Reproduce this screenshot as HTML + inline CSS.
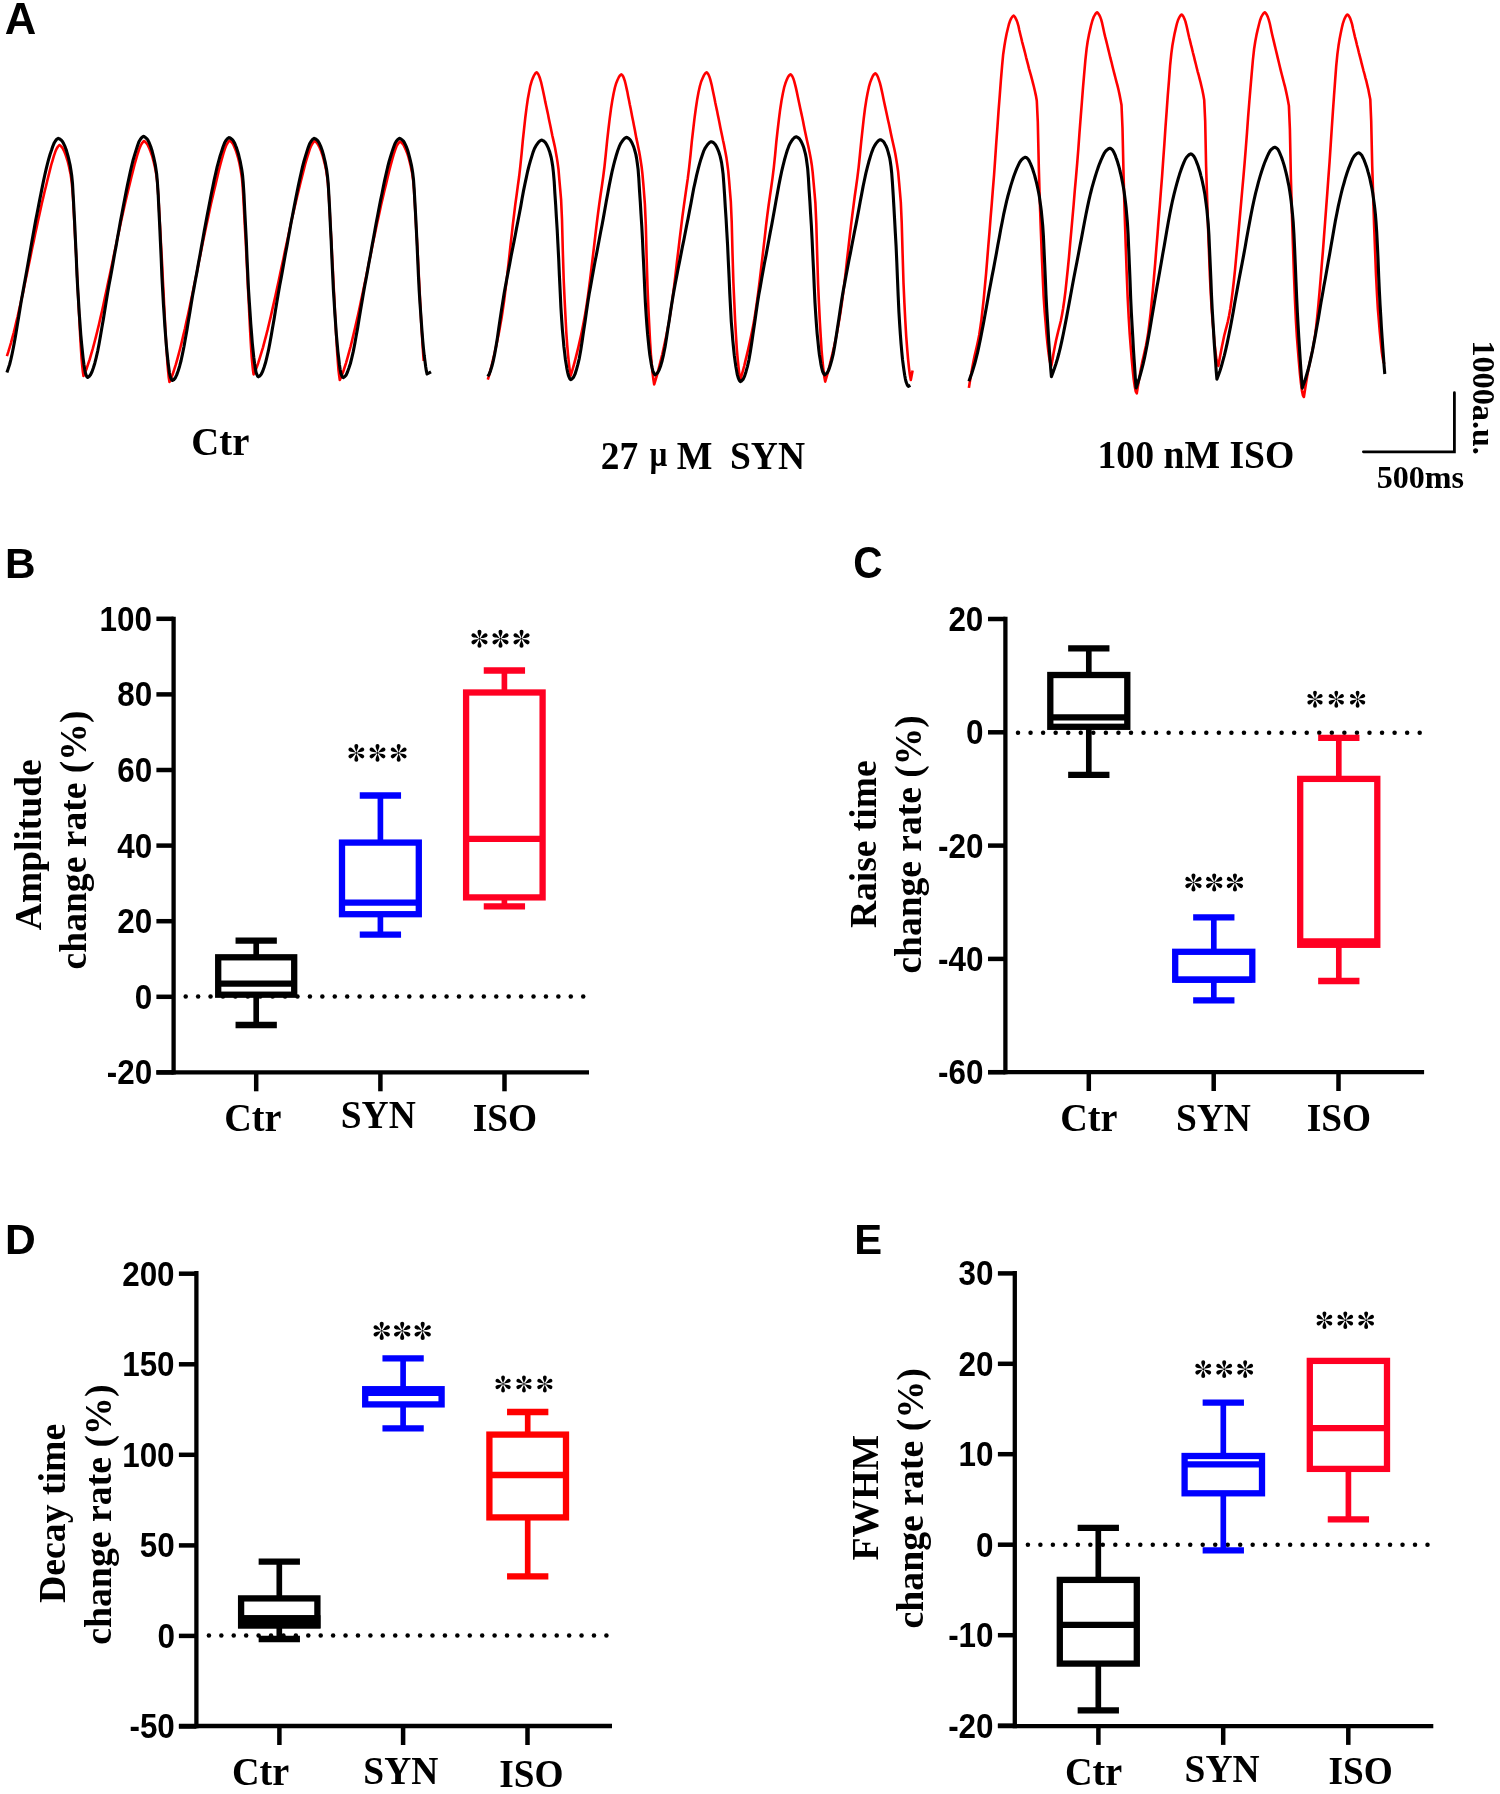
<!DOCTYPE html>
<html><head><meta charset="utf-8"><title>Figure</title>
<style>html,body{margin:0;padding:0;background:#fff;}svg{display:block;} svg{will-change:transform;}</style></head>
<body><svg width="1500" height="1794" viewBox="0 0 1500 1794" font-family="Liberation Serif, serif">
<rect width="1500" height="1794" fill="#fff"/>
<path d="M6.9 356.1L8.3 351.9L9.6 347.5L11.0 342.8L12.3 337.9L13.7 332.8L15.0 327.5L16.3 321.9L17.7 316.3L19.0 310.4L20.4 304.4L21.7 298.3L23.1 292.1L24.4 285.8L25.7 279.5L27.1 273.0L28.4 266.6L29.8 260.1L31.1 253.6L32.4 247.1L33.8 240.7L35.1 234.3L36.5 227.9L37.8 221.7L39.2 215.5L40.5 209.4L41.8 203.5L43.2 197.7L44.5 192.0L45.9 186.5L47.2 181.0L48.6 175.4L49.9 170.1L51.2 165.0L52.6 160.3L53.9 155.9L55.3 151.8L56.6 148.7L58.0 146.5L59.3 145.0L59.9 145.3L60.5 145.8L61.2 146.4L61.8 147.1L62.4 147.9L63.0 148.9L63.6 150.2L64.3 151.5L64.9 153.0L65.5 154.6L66.1 156.3L66.7 158.2L67.4 160.2L68.0 162.5L68.6 164.9L69.2 167.5L69.8 170.4L70.5 173.6L71.1 177.5L71.7 182.1L72.3 188.3L73.0 197.3L73.6 208.0L74.2 219.6L74.8 231.1L75.4 242.3L76.1 254.2L76.7 266.6L77.3 279.0L77.9 291.3L78.5 303.6L79.2 316.3L79.8 328.5L80.4 339.7L81.0 349.7L81.6 359.0L82.3 366.5L82.9 372.0L83.5 376.0L85.0 372.6L86.6 368.7L88.1 364.2L89.7 359.4L91.2 354.2L92.8 348.7L94.3 343.0L95.9 336.9L97.4 330.7L99.0 324.2L100.5 317.6L102.1 310.7L103.6 303.8L105.1 296.6L106.7 289.4L108.2 282.1L109.8 274.8L111.3 267.4L112.9 260.0L114.4 252.6L116.0 245.2L117.5 237.8L119.1 230.6L120.6 223.4L122.2 216.3L123.7 209.4L125.2 202.6L126.8 196.0L128.3 189.6L129.9 183.3L131.4 176.9L133.0 170.6L134.5 164.7L136.1 159.1L137.6 154.0L139.2 149.1L140.7 145.4L142.3 142.8L143.8 141.0L144.5 141.3L145.1 141.8L145.8 142.5L146.4 143.2L147.1 144.0L147.8 145.1L148.4 146.4L149.1 147.8L149.7 149.4L150.4 151.0L151.0 152.8L151.7 154.7L152.4 156.9L153.0 159.2L153.7 161.8L154.3 164.5L155.0 167.5L155.7 170.9L156.3 174.9L157.0 179.7L157.6 186.2L158.3 195.6L159.0 206.8L159.6 218.8L160.3 230.8L160.9 242.5L161.6 255.0L162.3 267.8L162.9 280.8L163.6 293.6L164.2 306.5L164.9 319.7L165.5 332.5L166.2 344.1L166.9 354.6L167.5 364.3L168.2 372.0L168.8 377.8L169.5 382.0L171.0 378.5L172.6 374.5L174.1 369.9L175.7 364.9L177.2 359.6L178.7 354.0L180.3 348.0L181.8 341.9L183.3 335.4L184.9 328.8L186.4 321.9L188.0 314.9L189.5 307.8L191.0 300.5L192.6 293.0L194.1 285.5L195.7 278.0L197.2 270.4L198.7 262.8L200.3 255.1L201.8 247.6L203.3 240.0L204.9 232.5L206.4 225.2L208.0 217.9L209.5 210.8L211.0 203.8L212.6 197.0L214.1 190.4L215.7 183.9L217.2 177.4L218.7 171.0L220.3 164.8L221.8 159.1L223.3 153.8L224.9 148.9L226.4 145.0L228.0 142.3L229.5 140.5L230.1 140.8L230.7 141.3L231.4 141.9L232.0 142.6L232.6 143.4L233.2 144.5L233.8 145.7L234.4 147.1L235.1 148.6L235.7 150.2L236.3 151.9L236.9 153.8L237.5 155.9L238.2 158.2L238.8 160.7L239.4 163.3L240.0 166.2L240.6 169.5L241.2 173.4L241.9 178.0L242.5 184.4L243.1 193.5L243.7 204.3L244.3 216.0L244.9 227.7L245.6 239.0L246.2 251.1L246.8 263.6L247.4 276.2L248.0 288.6L248.7 301.1L249.3 313.9L249.9 326.3L250.5 337.6L251.1 347.8L251.7 357.2L252.4 364.7L253.0 370.3L253.6 374.4L255.2 371.0L256.7 367.2L258.3 362.7L259.8 357.9L261.4 352.7L263.0 347.3L264.5 341.6L266.1 335.6L267.7 329.4L269.2 323.0L270.8 316.4L272.3 309.6L273.9 302.6L275.5 295.6L277.0 288.4L278.6 281.2L280.1 273.9L281.7 266.5L283.3 259.2L284.8 251.8L286.4 244.5L288.0 237.2L289.5 229.9L291.1 222.8L292.6 215.8L294.2 208.9L295.8 202.2L297.3 195.6L298.9 189.2L300.4 183.0L302.0 176.7L303.6 170.4L305.1 164.5L306.7 159.0L308.3 153.9L309.8 149.1L311.4 145.3L312.9 142.8L314.5 141.0L315.1 141.3L315.8 141.8L316.4 142.4L317.1 143.2L317.7 144.0L318.4 145.1L319.0 146.3L319.7 147.8L320.3 149.3L321.0 150.9L321.6 152.7L322.3 154.6L322.9 156.7L323.6 159.1L324.2 161.6L324.9 164.3L325.5 167.3L326.2 170.6L326.8 174.6L327.5 179.3L328.1 185.8L328.8 195.1L329.4 206.2L330.1 218.2L330.7 230.1L331.4 241.7L332.0 254.0L332.7 266.8L333.3 279.6L334.0 292.4L334.6 305.1L335.3 318.2L335.9 330.9L336.6 342.4L337.2 352.8L337.9 362.4L338.5 370.1L339.2 375.8L339.8 380.0L341.3 376.6L342.9 372.6L344.4 368.0L346.0 363.1L347.5 357.9L349.0 352.3L350.6 346.5L352.1 340.4L353.6 334.0L355.2 327.4L356.7 320.7L358.3 313.8L359.8 306.7L361.3 299.5L362.9 292.1L364.4 284.7L366.0 277.3L367.5 269.8L369.0 262.2L370.6 254.7L372.1 247.2L373.6 239.8L375.2 232.4L376.7 225.1L378.3 217.9L379.8 210.9L381.3 204.0L382.9 197.3L384.4 190.8L386.0 184.4L387.5 177.9L389.0 171.6L390.6 165.5L392.1 159.9L393.6 154.7L395.2 149.8L396.7 145.9L398.3 143.3L399.8 141.5L400.4 141.8L401.0 142.2L401.6 142.8L402.3 143.4L402.9 144.1L403.5 145.0L404.1 146.1L404.7 147.3L405.3 148.7L405.9 150.1L406.5 151.6L407.2 153.2L407.8 155.0L408.4 157.0L409.0 159.1L409.6 161.4L410.2 163.9L410.8 166.5L411.4 169.4L412.1 172.8L412.7 176.8L413.3 181.7L413.9 188.8L414.5 197.9L415.1 208.4L415.7 219.4L416.3 230.1L417.0 240.8L417.6 252.0L418.2 263.6L418.8 275.4L419.4 287.0L420.0 298.6L420.6 310.5L421.2 322.3L421.9 333.4L422.5 343.3L423.1 352.7L423.7 361.0" fill="none" stroke="#ff0000" stroke-width="2.6" stroke-linejoin="round" stroke-linecap="butt"/>
<path d="M6.9 372.4L8.2 368.7L9.6 364.5L10.9 359.4L12.2 353.5L13.5 347.0L14.8 339.9L16.1 332.4L17.4 324.6L18.7 316.7L20.0 308.7L21.3 300.8L22.7 293.1L24.0 285.8L25.3 278.7L26.6 271.5L27.9 264.2L29.2 256.8L30.5 249.5L31.8 242.1L33.1 234.8L34.4 227.6L35.7 220.4L37.1 213.4L38.4 206.6L39.7 199.9L41.0 193.4L42.3 186.9L43.6 180.5L44.9 174.5L46.2 168.8L47.5 163.6L48.8 158.7L50.1 154.3L51.5 150.3L52.8 146.3L54.1 143.1L55.4 141.0L56.7 139.3L58.0 138.4L58.8 138.5L59.5 138.9L60.3 139.4L61.0 140.0L61.8 140.7L62.6 141.7L63.3 143.0L64.1 144.6L64.9 146.3L65.6 148.2L66.4 150.4L67.1 152.9L67.9 155.7L68.7 158.8L69.4 162.1L70.2 165.7L70.9 170.1L71.7 175.5L72.5 183.3L73.2 195.6L74.0 210.5L74.8 225.8L75.5 241.2L76.3 258.3L77.0 275.2L77.8 289.9L78.6 302.3L79.3 314.0L80.1 324.8L80.8 334.8L81.6 343.7L82.4 351.5L83.1 358.1L83.9 364.3L84.7 369.5L85.4 373.2L86.2 375.2L86.9 376.8L87.7 377.4L89.1 376.5L90.5 374.8L92.0 371.8L93.4 367.8L94.8 363.2L96.2 357.6L97.7 351.0L99.1 343.7L100.5 335.8L101.9 327.5L103.4 318.9L104.8 310.2L106.2 301.5L107.6 293.1L109.0 285.0L110.5 277.3L111.9 269.4L113.3 261.4L114.7 253.4L116.2 245.4L117.6 237.3L119.0 229.4L120.4 221.6L121.9 213.9L123.3 206.3L124.7 199.0L126.1 191.9L127.5 184.8L129.0 177.9L130.4 171.3L131.8 165.3L133.2 159.7L134.7 154.6L136.1 150.1L137.5 145.7L138.9 141.8L140.4 139.3L141.8 137.5L143.2 136.4L143.9 136.5L144.7 136.9L145.4 137.4L146.2 138.1L146.9 138.8L147.7 139.7L148.4 141.1L149.2 142.7L149.9 144.5L150.7 146.5L151.4 148.7L152.2 151.3L152.9 154.1L153.7 157.3L154.4 160.6L155.2 164.3L155.9 168.7L156.7 174.3L157.4 182.3L158.2 194.8L158.9 210.0L159.7 225.7L160.4 241.4L161.2 258.8L161.9 276.1L162.7 291.2L163.4 303.8L164.2 315.7L164.9 326.8L165.7 337.0L166.4 346.1L167.2 354.0L167.9 360.8L168.7 367.1L169.4 372.5L170.2 376.2L170.9 378.3L171.7 379.9L172.4 380.5L173.8 379.6L175.3 377.9L176.7 374.9L178.2 370.8L179.6 366.2L181.1 360.5L182.5 353.9L184.0 346.5L185.4 338.6L186.9 330.2L188.3 321.5L189.8 312.8L191.2 304.1L192.6 295.5L194.1 287.4L195.5 279.6L197.0 271.6L198.4 263.6L199.9 255.5L201.3 247.4L202.8 239.3L204.2 231.3L205.7 223.4L207.1 215.7L208.6 208.1L210.0 200.7L211.4 193.5L212.9 186.4L214.3 179.4L215.8 172.8L217.2 166.7L218.7 161.1L220.1 156.0L221.6 151.4L223.0 147.0L224.5 143.1L225.9 140.5L227.4 138.7L228.8 137.6L229.6 137.7L230.3 138.1L231.1 138.6L231.8 139.2L232.6 139.9L233.4 140.9L234.1 142.2L234.9 143.8L235.6 145.6L236.4 147.5L237.1 149.7L237.9 152.2L238.7 155.0L239.4 158.0L240.2 161.3L240.9 165.0L241.7 169.3L242.5 174.7L243.2 182.5L244.0 194.8L244.7 209.7L245.5 225.1L246.3 240.5L247.0 257.6L247.8 274.5L248.5 289.3L249.3 301.6L250.1 313.3L250.8 324.2L251.6 334.2L252.3 343.1L253.1 350.8L253.8 357.5L254.6 363.7L255.4 368.9L256.1 372.6L256.9 374.6L257.6 376.2L258.4 376.8L259.8 375.9L261.2 374.3L262.7 371.3L264.1 367.3L265.5 362.8L266.9 357.2L268.4 350.7L269.8 343.5L271.2 335.7L272.6 327.4L274.1 318.9L275.5 310.3L276.9 301.8L278.3 293.4L279.7 285.4L281.2 277.8L282.6 270.0L284.0 262.1L285.4 254.1L286.9 246.2L288.3 238.3L289.7 230.4L291.1 222.6L292.6 215.0L294.0 207.6L295.4 200.4L296.8 193.3L298.2 186.3L299.7 179.4L301.1 173.0L302.5 166.9L303.9 161.5L305.4 156.4L306.8 151.9L308.2 147.6L309.6 143.8L311.1 141.3L312.5 139.4L313.9 138.4L314.7 138.5L315.4 138.9L316.2 139.4L316.9 140.0L317.7 140.7L318.4 141.7L319.2 143.0L319.9 144.6L320.7 146.4L321.4 148.3L322.2 150.5L322.9 153.0L323.7 155.8L324.4 158.8L325.2 162.1L325.9 165.8L326.7 170.1L327.4 175.5L328.2 183.3L328.9 195.6L329.7 210.5L330.4 225.9L331.2 241.3L331.9 258.4L332.7 275.3L333.4 290.1L334.2 302.4L334.9 314.1L335.7 325.0L336.4 335.0L337.2 343.9L337.9 351.6L338.7 358.3L339.4 364.5L340.2 369.7L340.9 373.4L341.7 375.4L342.4 377.0L343.2 377.6L344.6 376.7L346.1 375.1L347.5 372.0L348.9 368.1L350.4 363.5L351.8 357.9L353.3 351.4L354.7 344.2L356.1 336.3L357.6 328.1L359.0 319.5L360.4 310.9L361.9 302.3L363.3 293.9L364.7 285.9L366.2 278.2L367.6 270.4L369.0 262.5L370.5 254.5L371.9 246.5L373.4 238.6L374.8 230.7L376.2 222.9L377.7 215.3L379.1 207.8L380.5 200.6L382.0 193.5L383.4 186.4L384.8 179.6L386.3 173.1L387.7 167.0L389.1 161.5L390.6 156.5L392.0 152.0L393.5 147.6L394.9 143.8L396.3 141.3L397.8 139.4L399.2 138.4L399.9 138.5L400.6 138.8L401.3 139.3L402.1 139.8L402.8 140.5L403.5 141.2L404.2 142.3L404.9 143.7L405.6 145.2L406.4 146.9L407.1 148.7L407.8 150.8L408.5 153.2L409.2 155.8L409.9 158.7L410.6 161.7L411.4 165.0L412.1 168.9L412.8 173.6L413.5 179.6L414.2 189.4L414.9 202.3L415.7 216.6L416.4 230.6L417.1 245.5L417.8 261.5L418.5 277.0L419.2 290.6L419.9 302.1L420.7 313.0L421.4 323.2L422.1 332.7L422.8 341.3L423.5 348.8L424.2 355.3L425.0 361.4L425.7 366.8L426.4 371.2L427.1 374.0L431.0 371.8" fill="none" stroke="#000" stroke-width="3.1" stroke-linejoin="round" stroke-linecap="butt"/>
<path d="M487.8 379.6L489.1 375.3L490.3 370.7L491.6 365.8L492.8 360.6L494.1 355.3L495.3 349.8L496.6 344.1L497.8 338.1L499.1 331.7L500.3 325.0L501.6 317.8L502.8 309.8L504.1 300.9L505.3 291.1L506.6 280.7L507.8 269.8L509.1 258.5L510.3 247.2L511.6 235.9L512.8 224.9L514.1 214.3L515.3 204.3L516.6 195.1L517.8 186.2L519.1 176.8L520.3 166.3L521.6 153.7L522.8 140.6L524.1 128.6L525.3 117.6L526.6 107.4L527.8 99.0L529.1 91.9L530.3 85.8L531.6 81.3L532.8 78.1L534.1 75.3L535.3 73.3L536.6 72.4L537.5 73.1L538.3 74.3L539.2 76.2L540.1 78.8L541.0 81.8L541.8 85.3L542.7 89.2L543.6 93.4L544.5 97.7L545.3 101.9L546.2 106.0L547.1 110.1L548.0 114.3L548.8 118.4L549.7 122.7L550.6 127.0L551.5 131.4L552.3 135.5L553.2 139.4L554.1 143.4L555.0 147.5L555.8 152.0L556.7 156.9L557.6 162.6L558.5 169.4L559.3 179.2L560.2 189.2L561.1 199.6L562.0 219.5L562.8 250.7L563.7 279.8L564.6 299.5L565.5 317.0L566.3 332.4L567.2 345.2L568.1 355.3L569.0 363.9L569.8 370.9L570.7 375.7L572.0 371.4L573.3 366.9L574.6 362.2L575.9 357.1L577.2 351.9L578.5 346.5L579.8 340.9L581.1 335.0L582.4 328.8L583.7 322.1L585.0 315.0L586.3 307.3L587.6 298.5L588.9 288.9L590.2 278.7L591.5 268.0L592.8 257.0L594.1 245.9L595.4 234.8L596.7 224.0L598.0 213.6L599.3 203.8L600.6 194.8L601.9 186.0L603.2 176.8L604.5 166.5L605.8 154.2L607.1 141.2L608.4 129.5L609.7 118.7L611.0 108.8L612.3 100.5L613.6 93.5L614.9 87.6L616.2 83.2L617.5 80.0L618.8 77.3L620.1 75.3L621.4 74.4L622.2 75.1L623.1 76.3L623.9 78.3L624.8 80.9L625.6 84.0L626.4 87.6L627.3 91.6L628.1 95.9L629.0 100.3L629.8 104.6L630.7 108.8L631.5 113.0L632.3 117.2L633.2 121.5L634.0 125.8L634.9 130.2L635.7 134.7L636.5 138.9L637.4 142.9L638.2 147.0L639.1 151.2L639.9 155.7L640.7 160.8L641.6 166.7L642.4 173.6L643.3 183.6L644.1 193.8L644.9 204.4L645.8 224.8L646.6 256.7L647.5 286.4L648.3 306.6L649.2 324.5L650.0 340.2L650.8 353.3L651.7 363.6L652.5 372.4L653.4 379.5L654.2 384.5L655.5 380.1L656.9 375.4L658.2 370.5L659.6 365.2L660.9 359.8L662.3 354.2L663.6 348.4L664.9 342.3L666.3 335.9L667.6 329.0L669.0 321.7L670.3 313.6L671.7 304.5L673.0 294.6L674.4 284.0L675.7 272.9L677.0 261.5L678.4 250.0L679.7 238.6L681.1 227.4L682.4 216.6L683.8 206.4L685.1 197.1L686.4 188.0L687.8 178.4L689.1 167.8L690.5 155.0L691.8 141.6L693.2 129.5L694.5 118.3L695.9 108.0L697.2 99.4L698.5 92.2L699.9 86.0L701.2 81.5L702.6 78.2L703.9 75.4L705.3 73.3L706.6 72.4L707.5 73.1L708.3 74.3L709.2 76.2L710.1 78.9L710.9 81.9L711.8 85.5L712.6 89.4L713.5 93.7L714.4 98.0L715.2 102.3L716.1 106.5L717.0 110.6L717.8 114.8L718.7 119.1L719.6 123.4L720.4 127.7L721.3 132.1L722.2 136.3L723.0 140.3L723.9 144.3L724.7 148.5L725.6 153.0L726.5 158.1L727.3 163.8L728.2 170.7L729.1 180.6L729.9 190.7L730.8 201.3L731.7 221.5L732.5 253.0L733.4 282.5L734.3 302.5L735.1 320.3L736.0 335.8L736.8 348.8L737.7 359.0L738.6 367.7L739.4 374.8L740.3 379.7L741.6 375.4L742.9 370.8L744.2 366.0L745.4 360.9L746.7 355.5L748.0 350.1L749.3 344.4L750.6 338.4L751.9 332.1L753.2 325.4L754.5 318.2L755.7 310.4L757.0 301.5L758.3 291.8L759.6 281.4L760.9 270.5L762.2 259.4L763.5 248.1L764.8 236.9L766.0 226.0L767.3 215.4L768.6 205.5L769.9 196.4L771.2 187.5L772.5 178.1L773.8 167.7L775.1 155.2L776.3 142.1L777.6 130.3L778.9 119.3L780.2 109.2L781.5 100.8L782.8 93.8L784.1 87.7L785.4 83.3L786.6 80.1L787.9 77.3L789.2 75.3L790.5 74.4L791.4 75.1L792.3 76.3L793.2 78.2L794.1 80.9L794.9 83.9L795.8 87.4L796.7 91.4L797.6 95.7L798.5 100.0L799.4 104.3L800.3 108.5L801.2 112.6L802.1 116.8L803.0 121.0L803.8 125.3L804.7 129.7L805.6 134.1L806.5 138.3L807.4 142.3L808.3 146.3L809.2 150.5L810.1 155.0L811.0 160.0L811.9 165.8L812.7 172.6L813.6 182.6L814.5 192.7L815.4 203.2L816.3 223.4L817.2 255.0L818.1 284.4L819.0 304.4L819.9 322.2L820.8 337.7L821.6 350.7L822.5 360.9L823.4 369.6L824.3 376.7L825.2 381.6L826.5 377.2L827.8 372.6L829.1 367.7L830.3 362.6L831.6 357.2L832.9 351.7L834.2 346.0L835.5 340.0L836.8 333.6L838.0 326.8L839.3 319.6L840.6 311.6L841.9 302.6L843.2 292.8L844.5 282.4L845.8 271.4L847.0 260.2L848.3 248.8L849.6 237.5L850.9 226.4L852.2 215.8L853.5 205.8L854.7 196.5L856.0 187.5L857.3 178.1L858.6 167.6L859.9 155.0L861.2 141.8L862.5 129.8L863.7 118.8L865.0 108.5L866.3 100.1L867.6 93.0L868.9 86.9L870.2 82.4L871.4 79.2L872.7 76.3L874.0 74.3L875.3 73.4L876.2 74.1L877.1 75.3L878.0 77.2L878.9 79.9L879.9 82.9L880.8 86.4L881.7 90.4L882.6 94.6L883.5 99.0L884.4 103.3L885.3 107.4L886.2 111.5L887.1 115.7L888.0 119.9L889.0 124.2L889.9 128.6L890.8 133.0L891.7 137.2L892.6 141.2L893.5 145.2L894.4 149.3L895.3 153.8L896.2 158.9L897.1 164.6L898.1 171.5L899.0 181.4L899.9 191.5L900.8 202.0L901.7 222.1L902.6 253.6L903.5 283.0L904.4 303.0L905.3 320.7L906.2 336.2L907.2 349.1L908.1 359.4L909.0 368.0L909.9 375.1L910.8 380.0L912.6 370.5" fill="none" stroke="#ff0000" stroke-width="2.6" stroke-linejoin="round" stroke-linecap="butt"/>
<path d="M487.7 376.3L489.1 374.3L490.5 370.8L491.9 366.3L493.2 361.1L494.6 354.4L496.0 346.6L497.4 338.0L498.7 328.8L500.1 319.3L501.5 310.0L502.9 301.2L504.2 293.0L505.6 285.4L507.0 277.9L508.4 270.6L509.8 263.4L511.1 256.2L512.5 249.1L513.9 242.1L515.3 235.0L516.6 227.9L518.0 220.8L519.4 213.5L520.8 206.1L522.1 198.4L523.5 190.9L524.9 184.1L526.3 177.6L527.6 171.5L529.0 165.9L530.4 160.9L531.8 156.4L533.1 152.1L534.5 148.5L535.9 145.9L537.3 143.9L538.6 142.1L540.0 140.8L541.4 140.1L542.2 140.2L542.9 140.6L543.7 141.0L544.4 141.6L545.2 142.4L545.9 143.4L546.7 144.7L547.4 146.1L548.2 147.8L548.9 149.7L549.7 151.9L550.4 154.5L551.2 157.5L551.9 161.2L552.7 166.2L553.4 172.4L554.2 181.6L554.9 193.7L555.7 205.4L556.4 217.4L557.2 230.0L557.9 243.6L558.7 259.2L559.4 275.8L560.2 292.2L560.9 307.3L561.7 319.9L562.4 329.8L563.2 338.6L563.9 346.5L564.7 353.4L565.4 359.4L566.2 364.3L566.9 368.8L567.7 372.6L568.4 375.4L569.2 377.3L569.9 378.8L570.7 379.6L572.1 378.8L573.6 377.1L575.0 374.2L576.4 369.8L577.8 364.7L579.3 358.3L580.7 350.4L582.1 341.5L583.5 331.8L585.0 321.9L586.4 312.0L587.8 302.5L589.2 293.8L590.7 285.6L592.1 277.7L593.5 270.0L594.9 262.3L596.4 254.7L597.8 247.2L599.2 239.7L600.6 232.2L602.1 224.7L603.5 217.1L604.9 209.3L606.3 201.3L607.8 193.2L609.2 185.6L610.6 178.6L612.0 171.9L613.5 165.7L614.9 160.2L616.3 155.3L617.7 150.7L619.2 146.7L620.6 143.7L622.0 141.5L623.4 139.6L624.9 138.1L626.3 137.4L627.0 137.5L627.8 137.9L628.5 138.3L629.2 138.9L630.0 139.6L630.7 140.7L631.5 142.0L632.2 143.4L632.9 145.0L633.7 146.9L634.4 149.1L635.1 151.7L635.9 154.6L636.6 158.4L637.3 163.2L638.1 169.4L638.8 178.5L639.5 190.5L640.3 202.1L641.0 214.0L641.8 226.5L642.5 240.0L643.2 255.5L644.0 271.9L644.7 288.2L645.4 303.1L646.2 315.7L646.9 325.4L647.6 334.2L648.4 342.0L649.1 348.9L649.8 354.7L650.6 359.7L651.3 364.1L652.1 367.9L652.8 370.7L653.5 372.6L654.3 374.0L655.0 374.8L656.4 374.0L657.9 372.4L659.3 369.6L660.8 365.4L662.2 360.5L663.6 354.3L665.1 346.7L666.5 338.1L667.9 328.8L669.4 319.3L670.8 309.7L672.3 300.6L673.7 292.2L675.1 284.4L676.6 276.8L678.0 269.3L679.5 261.9L680.9 254.6L682.3 247.4L683.8 240.2L685.2 233.0L686.6 225.7L688.1 218.4L689.5 210.9L691.0 203.2L692.4 195.4L693.8 188.0L695.3 181.3L696.7 174.9L698.2 168.9L699.6 163.6L701.0 158.9L702.5 154.5L703.9 150.6L705.3 147.8L706.8 145.6L708.2 143.8L709.7 142.4L711.1 141.7L711.8 141.8L712.6 142.2L713.3 142.6L714.1 143.2L714.8 144.0L715.6 145.0L716.3 146.3L717.1 147.8L717.8 149.4L718.6 151.3L719.3 153.5L720.1 156.1L720.8 159.1L721.6 162.9L722.3 167.8L723.1 174.1L723.8 183.3L724.6 195.3L725.3 207.1L726.1 219.1L726.8 231.7L727.6 245.4L728.3 261.0L729.1 277.6L729.8 294.0L730.6 309.2L731.3 321.8L732.1 331.7L732.8 340.5L733.6 348.5L734.3 355.4L735.1 361.3L735.8 366.3L736.6 370.8L737.3 374.6L738.1 377.4L738.8 379.3L739.6 380.8L740.3 381.6L741.7 380.8L743.2 379.1L744.6 376.1L746.0 371.7L747.4 366.6L748.9 360.1L750.3 352.1L751.7 343.1L753.1 333.3L754.6 323.3L756.0 313.2L757.4 303.6L758.8 294.8L760.3 286.6L761.7 278.6L763.1 270.8L764.5 263.0L766.0 255.4L767.4 247.8L768.8 240.2L770.2 232.6L771.7 225.0L773.1 217.3L774.5 209.5L775.9 201.4L777.4 193.2L778.8 185.5L780.2 178.4L781.6 171.7L783.1 165.4L784.5 159.8L785.9 154.9L787.3 150.2L788.8 146.2L790.2 143.2L791.6 140.9L793.0 139.0L794.5 137.5L795.9 136.8L796.6 136.9L797.4 137.3L798.1 137.7L798.8 138.3L799.6 139.0L800.3 140.1L801.1 141.4L801.8 142.8L802.5 144.4L803.3 146.3L804.0 148.5L804.7 151.1L805.5 154.1L806.2 157.8L806.9 162.7L807.7 168.9L808.4 178.0L809.1 190.0L809.9 201.7L810.6 213.6L811.4 226.1L812.1 239.7L812.8 255.2L813.6 271.6L814.3 287.9L815.0 302.9L815.8 315.5L816.5 325.3L817.2 334.1L818.0 341.9L818.7 348.8L819.4 354.7L820.2 359.6L820.9 364.1L821.7 367.9L822.4 370.7L823.1 372.6L823.9 374.0L824.6 374.8L826.0 374.0L827.5 372.4L828.9 369.5L830.3 365.3L831.7 360.4L833.2 354.1L834.6 346.5L836.0 337.8L837.4 328.4L838.9 318.8L840.3 309.2L841.7 299.9L843.1 291.5L844.6 283.6L846.0 275.9L847.4 268.4L848.8 260.9L850.3 253.6L851.7 246.3L853.1 239.0L854.5 231.7L856.0 224.4L857.4 217.0L858.8 209.5L860.2 201.7L861.7 193.9L863.1 186.4L864.5 179.7L865.9 173.2L867.4 167.2L868.8 161.8L870.2 157.1L871.6 152.6L873.1 148.7L874.5 145.8L875.9 143.7L877.3 141.8L878.8 140.4L880.2 139.7L880.9 139.8L881.6 140.2L882.4 140.7L883.1 141.2L883.8 142.0L884.5 143.1L885.2 144.5L886.0 145.9L886.7 147.6L887.4 149.6L888.1 151.9L888.8 154.5L889.6 157.6L890.3 161.5L891.0 166.5L891.7 173.0L892.4 182.4L893.2 194.8L893.9 206.9L894.6 219.3L895.3 232.3L896.1 246.3L896.8 262.3L897.5 279.4L898.2 296.3L898.9 311.8L899.7 324.9L900.4 335.0L901.1 344.1L901.8 352.2L902.5 359.4L903.3 365.5L904.0 370.6L904.7 375.2L905.4 379.1L906.1 382.0L906.9 384.0L907.6 385.5L908.3 386.3L910.4 385.3" fill="none" stroke="#000" stroke-width="3.1" stroke-linejoin="round" stroke-linecap="butt"/>
<path d="M968.9 387.9L970.0 380.8L971.2 374.0L972.3 367.4L973.5 361.2L974.6 355.8L975.8 350.9L976.9 346.1L978.0 340.9L979.2 335.0L980.3 327.7L981.5 319.1L982.6 309.1L983.8 298.1L984.9 286.1L986.1 273.3L987.2 259.9L988.3 246.0L989.5 231.9L990.6 217.6L991.8 203.3L992.9 189.2L994.1 174.5L995.2 158.7L996.3 142.4L997.5 126.1L998.6 110.1L999.8 94.9L1000.9 80.2L1002.1 65.8L1003.2 54.2L1004.4 46.0L1005.5 39.4L1006.6 33.8L1007.8 28.8L1008.9 24.2L1010.1 20.8L1011.2 18.4L1012.4 16.6L1013.5 15.6L1014.5 16.4L1015.4 17.8L1016.4 19.8L1017.4 22.4L1018.4 25.8L1019.3 30.1L1020.3 34.3L1021.3 38.2L1022.2 42.1L1023.2 45.9L1024.2 49.7L1025.2 53.5L1026.1 57.3L1027.1 61.1L1028.1 64.9L1029.0 68.6L1030.0 72.2L1031.0 75.7L1032.0 79.3L1032.9 82.9L1033.9 86.8L1034.9 91.0L1035.9 95.6L1036.8 100.7L1037.8 122.1L1038.8 166.8L1039.7 198.2L1040.7 226.5L1041.7 252.8L1042.7 276.3L1043.6 295.9L1044.6 310.9L1045.6 322.6L1046.5 333.8L1047.5 344.0L1048.5 352.7L1049.5 359.6L1050.4 364.0L1051.4 365.6L1052.6 358.9L1053.7 352.4L1054.9 346.2L1056.1 340.3L1057.3 335.1L1058.4 330.5L1059.6 325.9L1060.8 321.0L1061.9 315.4L1063.1 308.5L1064.3 300.3L1065.5 290.8L1066.6 280.4L1067.8 269.0L1069.0 256.9L1070.1 244.1L1071.3 231.0L1072.5 217.5L1073.7 204.0L1074.8 190.4L1076.0 177.1L1077.2 163.1L1078.4 148.1L1079.5 132.7L1080.7 117.1L1081.9 102.0L1083.0 87.6L1084.2 73.6L1085.4 59.9L1086.6 48.9L1087.7 41.2L1088.9 34.9L1090.1 29.6L1091.2 24.8L1092.4 20.5L1093.6 17.2L1094.8 15.0L1095.9 13.3L1097.1 12.3L1098.1 13.2L1099.1 14.7L1100.2 16.8L1101.2 19.7L1102.2 23.4L1103.2 28.1L1104.2 32.7L1105.2 36.9L1106.3 41.1L1107.3 45.3L1108.3 49.4L1109.3 53.5L1110.3 57.7L1111.4 61.8L1112.4 66.0L1113.4 70.0L1114.4 73.9L1115.4 77.8L1116.4 81.6L1117.5 85.6L1118.5 89.8L1119.5 94.4L1120.5 99.4L1121.5 105.0L1122.5 128.3L1123.6 176.9L1124.6 211.1L1125.6 242.0L1126.6 270.6L1127.6 296.1L1128.7 317.5L1129.7 333.8L1130.7 346.6L1131.7 358.8L1132.7 369.9L1133.7 379.4L1134.8 386.8L1135.8 391.7L1136.8 393.4L1137.9 386.2L1139.1 379.2L1140.2 372.6L1141.4 366.3L1142.5 360.7L1143.7 355.7L1144.8 350.8L1146.0 345.6L1147.1 339.5L1148.3 332.1L1149.4 323.3L1150.6 313.2L1151.7 302.0L1152.9 289.8L1154.0 276.8L1155.2 263.1L1156.3 249.0L1157.5 234.6L1158.6 220.1L1159.8 205.6L1160.9 191.2L1162.1 176.2L1163.2 160.2L1164.4 143.6L1165.5 126.9L1166.7 110.6L1167.8 95.2L1169.0 80.3L1170.1 65.6L1171.3 53.8L1172.4 45.5L1173.6 38.7L1174.7 33.1L1175.9 27.9L1177.0 23.3L1178.2 19.7L1179.3 17.4L1180.5 15.5L1181.6 14.5L1182.5 15.3L1183.5 16.7L1184.4 18.7L1185.4 21.4L1186.3 24.8L1187.3 29.1L1188.2 33.3L1189.1 37.2L1190.1 41.1L1191.0 44.9L1192.0 48.7L1192.9 52.5L1193.9 56.3L1194.8 60.1L1195.8 64.0L1196.7 67.7L1197.6 71.3L1198.6 74.8L1199.5 78.4L1200.5 82.1L1201.4 86.0L1202.4 90.2L1203.3 94.8L1204.2 99.9L1205.2 121.4L1206.1 166.3L1207.1 197.8L1208.0 226.2L1209.0 252.6L1209.9 276.1L1210.9 295.9L1211.8 310.9L1212.7 322.6L1213.7 333.9L1214.6 344.1L1215.6 352.9L1216.5 359.8L1217.5 364.2L1218.4 365.8L1219.6 359.1L1220.8 352.6L1222.0 346.3L1223.2 340.5L1224.3 335.3L1225.5 330.6L1226.7 326.1L1227.9 321.2L1229.1 315.5L1230.3 308.7L1231.5 300.4L1232.7 291.0L1233.9 280.5L1235.1 269.1L1236.2 257.0L1237.4 244.3L1238.6 231.1L1239.8 217.7L1241.0 204.1L1242.2 190.5L1243.4 177.2L1244.6 163.2L1245.8 148.2L1247.0 132.7L1248.1 117.2L1249.3 102.0L1250.5 87.6L1251.7 73.7L1252.9 60.0L1254.1 49.0L1255.3 41.2L1256.5 34.9L1257.7 29.6L1258.9 24.8L1260.0 20.5L1261.2 17.2L1262.4 15.0L1263.6 13.3L1264.8 12.3L1265.8 13.2L1266.8 14.7L1267.8 16.9L1268.8 19.8L1269.8 23.5L1270.8 28.2L1271.8 32.9L1272.8 37.2L1273.8 41.4L1274.8 45.6L1275.8 49.8L1276.8 53.9L1277.8 58.1L1278.8 62.3L1279.8 66.5L1280.8 70.6L1281.8 74.5L1282.8 78.4L1283.8 82.3L1284.9 86.3L1285.9 90.6L1286.9 95.2L1287.9 100.2L1288.9 105.9L1289.9 129.4L1290.9 178.5L1291.9 213.0L1292.9 244.1L1293.9 273.1L1294.9 298.8L1295.9 320.4L1296.9 336.9L1297.9 349.7L1298.9 362.0L1299.9 373.3L1300.9 382.9L1301.9 390.4L1302.9 395.3L1303.9 397.0L1305.0 389.7L1306.1 382.7L1307.2 376.0L1308.4 369.6L1309.5 364.0L1310.6 359.0L1311.7 354.0L1312.8 348.7L1313.9 342.6L1315.1 335.2L1316.2 326.3L1317.3 316.1L1318.4 304.7L1319.5 292.4L1320.6 279.3L1321.7 265.5L1322.9 251.3L1324.0 236.7L1325.1 222.0L1326.2 207.4L1327.3 192.9L1328.4 177.7L1329.6 161.5L1330.7 144.8L1331.8 128.0L1332.9 111.6L1334.0 96.0L1335.1 80.9L1336.2 66.1L1337.4 54.2L1338.5 45.8L1339.6 39.0L1340.7 33.2L1341.8 28.0L1342.9 23.4L1344.1 19.8L1345.2 17.4L1346.3 15.5L1347.4 14.5L1348.4 15.3L1349.3 16.7L1350.3 18.7L1351.2 21.3L1352.2 24.7L1353.1 29.0L1354.1 33.2L1355.0 37.1L1356.0 40.9L1356.9 44.8L1357.9 48.5L1358.8 52.3L1359.8 56.1L1360.8 59.9L1361.7 63.7L1362.7 67.5L1363.6 71.0L1364.6 74.5L1365.5 78.1L1366.5 81.7L1367.4 85.6L1368.4 89.8L1369.3 94.4L1370.3 99.5L1371.2 120.9L1372.2 165.5L1373.2 196.8L1374.1 225.1L1375.1 251.4L1376.0 274.8L1377.0 294.4L1377.9 309.4L1378.9 321.1L1379.8 332.2L1380.8 342.4L1381.7 351.2L1382.7 358.0L1383.6 362.4L1384.6 364.0" fill="none" stroke="#ff0000" stroke-width="2.6" stroke-linejoin="round" stroke-linecap="butt"/>
<path d="M968.9 381.2L970.3 377.4L971.8 373.3L973.2 368.7L974.7 363.8L976.1 358.4L977.6 352.4L979.0 345.9L980.5 338.8L981.9 331.4L983.4 323.8L984.8 315.9L986.3 307.8L987.7 299.8L989.1 291.8L990.6 284.0L992.0 276.4L993.5 268.9L994.9 261.2L996.4 253.3L997.8 245.3L999.3 237.4L1000.7 229.6L1002.2 222.0L1003.6 214.7L1005.1 207.9L1006.5 201.6L1007.9 196.0L1009.4 190.7L1010.8 185.6L1012.3 180.9L1013.7 176.5L1015.2 172.5L1016.6 168.9L1018.1 165.6L1019.5 162.6L1021.0 160.3L1022.4 158.9L1023.9 157.8L1025.3 157.2L1026.0 157.4L1026.6 157.8L1027.3 158.4L1028.0 159.0L1028.6 159.9L1029.3 161.1L1030.0 162.6L1030.7 164.1L1031.3 165.7L1032.0 167.4L1032.7 169.3L1033.3 171.2L1034.0 173.4L1034.7 175.6L1035.3 178.0L1036.0 180.6L1036.7 183.4L1037.3 186.3L1038.0 189.5L1038.7 192.9L1039.4 196.8L1040.0 201.2L1040.7 206.2L1041.4 211.8L1042.0 218.1L1042.7 225.4L1043.4 235.8L1044.0 249.1L1044.7 264.2L1045.4 279.8L1046.0 294.9L1046.7 308.3L1047.4 319.6L1048.1 330.4L1048.7 340.7L1049.4 350.6L1050.1 359.9L1050.7 368.6L1051.4 376.7L1052.9 372.8L1054.4 368.6L1055.9 364.0L1057.4 359.0L1058.9 353.5L1060.4 347.3L1061.9 340.7L1063.4 333.5L1064.9 325.9L1066.4 318.1L1067.9 310.0L1069.4 301.9L1070.9 293.7L1072.4 285.5L1073.9 277.5L1075.4 269.8L1076.9 262.1L1078.4 254.3L1079.9 246.2L1081.5 238.1L1083.0 230.0L1084.5 222.0L1086.0 214.3L1087.5 206.9L1089.0 199.9L1090.5 193.5L1092.0 187.7L1093.5 182.3L1095.0 177.2L1096.5 172.4L1098.0 167.9L1099.5 163.8L1101.0 160.1L1102.5 156.8L1104.0 153.7L1105.5 151.4L1107.0 149.9L1108.5 148.8L1110.0 148.2L1110.7 148.4L1111.3 148.9L1112.0 149.5L1112.7 150.2L1113.3 151.2L1114.0 152.5L1114.7 154.1L1115.4 155.7L1116.0 157.5L1116.7 159.4L1117.4 161.4L1118.0 163.5L1118.7 165.8L1119.4 168.3L1120.0 171.0L1120.7 173.8L1121.4 176.8L1122.0 180.0L1122.7 183.5L1123.4 187.2L1124.1 191.5L1124.7 196.2L1125.4 201.7L1126.1 207.8L1126.7 214.7L1127.4 222.7L1128.1 234.1L1128.7 248.6L1129.4 265.0L1130.1 282.1L1130.7 298.6L1131.4 313.2L1132.1 325.6L1132.8 337.3L1133.4 348.6L1134.1 359.4L1134.8 369.5L1135.4 379.0L1136.1 387.9L1137.5 383.9L1138.9 379.6L1140.3 374.9L1141.7 369.7L1143.1 364.1L1144.5 357.8L1145.9 351.0L1147.3 343.7L1148.7 335.9L1150.1 327.9L1151.5 319.6L1152.9 311.3L1154.3 302.9L1155.7 294.5L1157.1 286.3L1158.5 278.4L1159.9 270.6L1161.3 262.5L1162.7 254.3L1164.2 246.0L1165.6 237.7L1167.0 229.5L1168.4 221.6L1169.8 214.0L1171.2 206.9L1172.6 200.3L1174.0 194.4L1175.4 188.9L1176.8 183.6L1178.2 178.7L1179.6 174.1L1181.0 169.9L1182.4 166.1L1183.8 162.7L1185.2 159.5L1186.6 157.2L1188.0 155.7L1189.4 154.5L1190.8 153.9L1191.5 154.1L1192.1 154.5L1192.8 155.1L1193.5 155.8L1194.1 156.7L1194.8 157.9L1195.5 159.4L1196.2 161.0L1196.8 162.6L1197.5 164.4L1198.2 166.3L1198.8 168.3L1199.5 170.5L1200.2 172.8L1200.8 175.3L1201.5 177.9L1202.2 180.8L1202.8 183.8L1203.5 187.0L1204.2 190.6L1204.9 194.6L1205.5 199.1L1206.2 204.2L1206.9 209.9L1207.5 216.4L1208.2 223.9L1208.9 234.6L1209.5 248.3L1210.2 263.7L1210.9 279.8L1211.5 295.3L1212.2 309.0L1212.9 320.6L1213.6 331.7L1214.2 342.3L1214.9 352.4L1215.6 361.9L1216.2 370.9L1216.9 379.2L1218.4 375.3L1219.9 371.0L1221.4 366.3L1222.8 361.2L1224.3 355.6L1225.8 349.4L1227.3 342.6L1228.8 335.3L1230.3 327.7L1231.8 319.7L1233.3 311.5L1234.7 303.2L1236.2 294.9L1237.7 286.6L1239.2 278.5L1240.7 270.6L1242.2 262.9L1243.7 254.9L1245.2 246.7L1246.6 238.5L1248.1 230.2L1249.6 222.1L1251.1 214.3L1252.6 206.8L1254.1 199.7L1255.6 193.2L1257.1 187.4L1258.5 181.9L1260.0 176.6L1261.5 171.7L1263.0 167.2L1264.5 163.0L1266.0 159.3L1267.5 155.9L1269.0 152.8L1270.4 150.4L1271.9 148.9L1273.4 147.8L1274.9 147.2L1275.6 147.4L1276.3 147.9L1277.0 148.5L1277.7 149.2L1278.4 150.2L1279.1 151.5L1279.8 153.1L1280.5 154.8L1281.2 156.5L1281.9 158.4L1282.6 160.4L1283.3 162.6L1284.0 164.9L1284.7 167.4L1285.4 170.1L1286.1 172.9L1286.8 175.9L1287.5 179.2L1288.2 182.6L1289.0 186.4L1289.7 190.7L1290.4 195.5L1291.1 200.9L1291.8 207.1L1292.5 214.1L1293.2 222.1L1293.9 233.5L1294.6 248.1L1295.3 264.6L1296.0 281.8L1296.7 298.3L1297.4 313.0L1298.1 325.4L1298.8 337.3L1299.5 348.6L1300.2 359.4L1300.9 369.6L1301.6 379.2L1302.3 388.1L1303.7 384.1L1305.2 379.8L1306.6 375.0L1308.1 369.8L1309.5 364.2L1310.9 357.9L1312.4 351.0L1313.8 343.6L1315.3 335.8L1316.7 327.8L1318.2 319.5L1319.6 311.0L1321.0 302.6L1322.5 294.2L1323.9 286.0L1325.4 278.0L1326.8 270.1L1328.2 262.0L1329.7 253.7L1331.1 245.4L1332.6 237.0L1334.0 228.8L1335.4 220.8L1336.9 213.2L1338.3 206.1L1339.8 199.5L1341.2 193.5L1342.6 187.9L1344.1 182.7L1345.5 177.7L1347.0 173.1L1348.4 168.9L1349.9 165.1L1351.3 161.6L1352.7 158.5L1354.2 156.1L1355.6 154.6L1357.1 153.4L1358.5 152.8L1359.2 153.0L1359.8 153.4L1360.5 154.0L1361.2 154.6L1361.9 155.5L1362.5 156.8L1363.2 158.2L1363.9 159.7L1364.6 161.4L1365.2 163.1L1365.9 165.0L1366.6 166.9L1367.3 169.1L1367.9 171.4L1368.6 173.8L1369.3 176.4L1370.0 179.2L1370.6 182.2L1371.3 185.3L1372.0 188.8L1372.7 192.7L1373.3 197.1L1374.0 202.1L1374.7 207.8L1375.4 214.2L1376.0 221.6L1376.7 232.0L1377.4 245.4L1378.1 260.6L1378.7 276.4L1379.4 291.6L1380.1 305.1L1380.8 316.5L1381.4 327.3L1382.1 337.7L1382.8 347.7L1383.5 357.0L1384.1 365.8L1384.8 374.0" fill="none" stroke="#000" stroke-width="3.1" stroke-linejoin="round" stroke-linecap="butt"/>
<path d="M1363.4 451.8L1454.4 451.8L1454.4 392.7" fill="none" stroke="#000" stroke-width="2.8" stroke-linecap="round" stroke-linejoin="miter"/>
<text transform="matrix(0.436 0 0 0.438 4.691 34.238)" font-family="Liberation Sans" font-weight="bold" font-style="normal" font-size="100" fill="#000" xml:space="preserve">A</text>
<text transform="matrix(0.423 0 0 0.432 5.039 577.8)" font-family="Liberation Sans" font-weight="bold" font-style="normal" font-size="100" fill="#000" xml:space="preserve">B</text>
<text transform="matrix(0.406 0 0 0.445 853.175 578.355)" font-family="Liberation Sans" font-weight="bold" font-style="normal" font-size="100" fill="#000" xml:space="preserve">C</text>
<text transform="matrix(0.426 0 0 0.432 5.016 1253.8)" font-family="Liberation Sans" font-weight="bold" font-style="normal" font-size="100" fill="#000" xml:space="preserve">D</text>
<text transform="matrix(0.418 0 0 0.432 854.275 1253.8)" font-family="Liberation Sans" font-weight="bold" font-style="normal" font-size="100" fill="#000" xml:space="preserve">E</text>
<text transform="matrix(0.387 0 0 0.403 191.363 454.897)" font-family="Liberation Serif" font-weight="bold" font-style="normal" font-size="100" fill="#000" xml:space="preserve">Ctr</text>
<text transform="matrix(0.374 0 0 0.394 600.702 468.606)" font-family="Liberation Serif" font-weight="bold" font-style="normal" font-size="100" fill="#000" xml:space="preserve">27</text>
<text transform="matrix(0.311 0 0 0.352 649.578 465.603)" font-family="Liberation Serif" font-weight="bold" font-style="normal" font-size="100" fill="#000" xml:space="preserve">µ</text>
<text transform="matrix(0.378 0 0 0.392 676.645 469)" font-family="Liberation Serif" font-weight="bold" font-style="normal" font-size="100" fill="#000" xml:space="preserve">M</text>
<text transform="matrix(0.375 0 0 0.396 730.024 468.709)" font-family="Liberation Serif" font-weight="bold" font-style="normal" font-size="100" fill="#000" xml:space="preserve">SYN</text>
<text transform="matrix(0.377 0 0 0.391 1097.485 468.118)" font-family="Liberation Serif" font-weight="bold" font-style="normal" font-size="100" fill="#000" xml:space="preserve">100 nM ISO</text>
<text transform="matrix(0.321 0 0 0.321 1376.714 488.358)" font-family="Liberation Serif" font-weight="bold" font-style="normal" font-size="100" fill="#000" xml:space="preserve">500ms</text>
<text transform="matrix(0 0.322 -0.322 0 1472.5 340.424)" font-family="Liberation Serif" font-weight="bold" font-style="normal" font-size="100" xml:space="preserve">1000a.u.</text>
<line x1="173.6" y1="616.7" x2="173.6" y2="1074.55" stroke="#000000" stroke-width="4.3" stroke-linecap="butt"/>
<line x1="156.4" y1="1072.4" x2="589" y2="1072.4" stroke="#000000" stroke-width="4.3" stroke-linecap="butt"/>
<line x1="156.4" y1="618.8" x2="173.6" y2="618.8" stroke="#000000" stroke-width="4.5" stroke-linecap="butt"/>
<text transform="matrix(0.314 0 0 0.346 99.618 630.737)" font-family="Liberation Sans" font-weight="bold" font-style="normal" font-size="100" xml:space="preserve">100</text>
<line x1="156.4" y1="694.4" x2="173.6" y2="694.4" stroke="#000000" stroke-width="4.5" stroke-linecap="butt"/>
<text transform="matrix(0.314 0 0 0.346 117.202 706.337)" font-family="Liberation Sans" font-weight="bold" font-style="normal" font-size="100" xml:space="preserve">80</text>
<line x1="156.4" y1="770" x2="173.6" y2="770" stroke="#000000" stroke-width="4.5" stroke-linecap="butt"/>
<text transform="matrix(0.314 0 0 0.346 117.202 781.937)" font-family="Liberation Sans" font-weight="bold" font-style="normal" font-size="100" xml:space="preserve">60</text>
<line x1="156.4" y1="845.6" x2="173.6" y2="845.6" stroke="#000000" stroke-width="4.5" stroke-linecap="butt"/>
<text transform="matrix(0.314 0 0 0.346 117.202 857.537)" font-family="Liberation Sans" font-weight="bold" font-style="normal" font-size="100" xml:space="preserve">40</text>
<line x1="156.4" y1="921.2" x2="173.6" y2="921.2" stroke="#000000" stroke-width="4.5" stroke-linecap="butt"/>
<text transform="matrix(0.314 0 0 0.346 117.202 933.137)" font-family="Liberation Sans" font-weight="bold" font-style="normal" font-size="100" xml:space="preserve">20</text>
<line x1="156.4" y1="996.8" x2="173.6" y2="996.8" stroke="#000000" stroke-width="4.5" stroke-linecap="butt"/>
<text transform="matrix(0.314 0 0 0.346 134.786 1008.737)" font-family="Liberation Sans" font-weight="bold" font-style="normal" font-size="100" xml:space="preserve">0</text>
<line x1="156.4" y1="1072.4" x2="173.6" y2="1072.4" stroke="#000000" stroke-width="4.5" stroke-linecap="butt"/>
<text transform="matrix(0.314 0 0 0.346 106.84 1084.337)" font-family="Liberation Sans" font-weight="bold" font-style="normal" font-size="100" xml:space="preserve">-20</text>
<line x1="256.2" y1="1072.4" x2="256.2" y2="1091.3" stroke="#000000" stroke-width="4.5" stroke-linecap="butt"/>
<line x1="380.4" y1="1072.4" x2="380.4" y2="1091.3" stroke="#000000" stroke-width="4.5" stroke-linecap="butt"/>
<line x1="504.5" y1="1072.4" x2="504.5" y2="1091.3" stroke="#000000" stroke-width="4.5" stroke-linecap="butt"/>
<circle cx="185.7" cy="996.6" r="2.25"/>
<circle cx="198.122" cy="996.6" r="2.25"/>
<circle cx="210.544" cy="996.6" r="2.25"/>
<circle cx="222.966" cy="996.6" r="2.25"/>
<circle cx="235.387" cy="996.6" r="2.25"/>
<circle cx="247.809" cy="996.6" r="2.25"/>
<circle cx="260.231" cy="996.6" r="2.25"/>
<circle cx="272.653" cy="996.6" r="2.25"/>
<circle cx="285.075" cy="996.6" r="2.25"/>
<circle cx="297.497" cy="996.6" r="2.25"/>
<circle cx="309.919" cy="996.6" r="2.25"/>
<circle cx="322.341" cy="996.6" r="2.25"/>
<circle cx="334.763" cy="996.6" r="2.25"/>
<circle cx="347.184" cy="996.6" r="2.25"/>
<circle cx="359.606" cy="996.6" r="2.25"/>
<circle cx="372.028" cy="996.6" r="2.25"/>
<circle cx="384.45" cy="996.6" r="2.25"/>
<circle cx="396.872" cy="996.6" r="2.25"/>
<circle cx="409.294" cy="996.6" r="2.25"/>
<circle cx="421.716" cy="996.6" r="2.25"/>
<circle cx="434.138" cy="996.6" r="2.25"/>
<circle cx="446.559" cy="996.6" r="2.25"/>
<circle cx="458.981" cy="996.6" r="2.25"/>
<circle cx="471.403" cy="996.6" r="2.25"/>
<circle cx="483.825" cy="996.6" r="2.25"/>
<circle cx="496.247" cy="996.6" r="2.25"/>
<circle cx="508.669" cy="996.6" r="2.25"/>
<circle cx="521.091" cy="996.6" r="2.25"/>
<circle cx="533.513" cy="996.6" r="2.25"/>
<circle cx="545.934" cy="996.6" r="2.25"/>
<circle cx="558.356" cy="996.6" r="2.25"/>
<circle cx="570.778" cy="996.6" r="2.25"/>
<circle cx="583.2" cy="996.6" r="2.25"/>
<line x1="256.2" y1="940.6" x2="256.2" y2="957.3" stroke="#000000" stroke-width="5.67" stroke-linecap="butt"/>
<line x1="235.55" y1="940.6" x2="276.85" y2="940.6" stroke="#000000" stroke-width="6.3" stroke-linecap="butt"/>
<line x1="256.2" y1="994.7" x2="256.2" y2="1025" stroke="#000000" stroke-width="5.67" stroke-linecap="butt"/>
<line x1="235.55" y1="1025" x2="276.85" y2="1025" stroke="#000000" stroke-width="6.3" stroke-linecap="butt"/>
<rect x="218.2" y="957.3" width="76" height="37.4" fill="none" stroke="#000000" stroke-width="6.3" stroke-linejoin="miter"/>
<line x1="218.2" y1="983.6" x2="294.2" y2="983.6" stroke="#000000" stroke-width="6.3" stroke-linecap="butt"/>
<line x1="380.4" y1="795.5" x2="380.4" y2="842.6" stroke="#0000ff" stroke-width="5.67" stroke-linecap="butt"/>
<line x1="359.75" y1="795.5" x2="401.05" y2="795.5" stroke="#0000ff" stroke-width="6.3" stroke-linecap="butt"/>
<line x1="380.4" y1="914.2" x2="380.4" y2="934.6" stroke="#0000ff" stroke-width="5.67" stroke-linecap="butt"/>
<line x1="359.75" y1="934.6" x2="401.05" y2="934.6" stroke="#0000ff" stroke-width="6.3" stroke-linecap="butt"/>
<rect x="342" y="842.6" width="76.8" height="71.6" fill="none" stroke="#0000ff" stroke-width="6.3" stroke-linejoin="miter"/>
<line x1="342" y1="902.6" x2="418.8" y2="902.6" stroke="#0000ff" stroke-width="6.3" stroke-linecap="butt"/>
<line x1="504.4" y1="670.5" x2="504.4" y2="692.5" stroke="#ff0022" stroke-width="5.67" stroke-linecap="butt"/>
<line x1="483.75" y1="670.5" x2="525.05" y2="670.5" stroke="#ff0022" stroke-width="6.3" stroke-linecap="butt"/>
<line x1="504.4" y1="897.4" x2="504.4" y2="906.4" stroke="#ff0022" stroke-width="5.67" stroke-linecap="butt"/>
<line x1="483.75" y1="906.4" x2="525.05" y2="906.4" stroke="#ff0022" stroke-width="6.3" stroke-linecap="butt"/>
<rect x="466.1" y="692.5" width="76.5" height="204.9" fill="none" stroke="#ff0022" stroke-width="6.3" stroke-linejoin="miter"/>
<line x1="466.1" y1="838.8" x2="542.6" y2="838.8" stroke="#ff0022" stroke-width="6.3" stroke-linecap="butt"/>
<g transform="translate(356.33 752.95) scale(1.041)" fill="#000"><circle r="0.9"/><path transform="rotate(0)" d="M0 -0.6C-0.5 -2.6 -1.9 -4.6 -1.9 -6.6A1.9 1.9 0 0 1 1.9 -6.6C1.9 -4.6 0.5 -2.6 0 -0.6Z"/><path transform="rotate(60)" d="M0 -0.6C-0.5 -2.6 -1.9 -4.6 -1.9 -6.6A1.9 1.9 0 0 1 1.9 -6.6C1.9 -4.6 0.5 -2.6 0 -0.6Z"/><path transform="rotate(120)" d="M0 -0.6C-0.5 -2.6 -1.9 -4.6 -1.9 -6.6A1.9 1.9 0 0 1 1.9 -6.6C1.9 -4.6 0.5 -2.6 0 -0.6Z"/><path transform="rotate(180)" d="M0 -0.6C-0.5 -2.6 -1.9 -4.6 -1.9 -6.6A1.9 1.9 0 0 1 1.9 -6.6C1.9 -4.6 0.5 -2.6 0 -0.6Z"/><path transform="rotate(240)" d="M0 -0.6C-0.5 -2.6 -1.9 -4.6 -1.9 -6.6A1.9 1.9 0 0 1 1.9 -6.6C1.9 -4.6 0.5 -2.6 0 -0.6Z"/><path transform="rotate(300)" d="M0 -0.6C-0.5 -2.6 -1.9 -4.6 -1.9 -6.6A1.9 1.9 0 0 1 1.9 -6.6C1.9 -4.6 0.5 -2.6 0 -0.6Z"/></g>
<g transform="translate(377.5 752.95) scale(1.041)" fill="#000"><circle r="0.9"/><path transform="rotate(0)" d="M0 -0.6C-0.5 -2.6 -1.9 -4.6 -1.9 -6.6A1.9 1.9 0 0 1 1.9 -6.6C1.9 -4.6 0.5 -2.6 0 -0.6Z"/><path transform="rotate(60)" d="M0 -0.6C-0.5 -2.6 -1.9 -4.6 -1.9 -6.6A1.9 1.9 0 0 1 1.9 -6.6C1.9 -4.6 0.5 -2.6 0 -0.6Z"/><path transform="rotate(120)" d="M0 -0.6C-0.5 -2.6 -1.9 -4.6 -1.9 -6.6A1.9 1.9 0 0 1 1.9 -6.6C1.9 -4.6 0.5 -2.6 0 -0.6Z"/><path transform="rotate(180)" d="M0 -0.6C-0.5 -2.6 -1.9 -4.6 -1.9 -6.6A1.9 1.9 0 0 1 1.9 -6.6C1.9 -4.6 0.5 -2.6 0 -0.6Z"/><path transform="rotate(240)" d="M0 -0.6C-0.5 -2.6 -1.9 -4.6 -1.9 -6.6A1.9 1.9 0 0 1 1.9 -6.6C1.9 -4.6 0.5 -2.6 0 -0.6Z"/><path transform="rotate(300)" d="M0 -0.6C-0.5 -2.6 -1.9 -4.6 -1.9 -6.6A1.9 1.9 0 0 1 1.9 -6.6C1.9 -4.6 0.5 -2.6 0 -0.6Z"/></g>
<g transform="translate(398.67 752.95) scale(1.041)" fill="#000"><circle r="0.9"/><path transform="rotate(0)" d="M0 -0.6C-0.5 -2.6 -1.9 -4.6 -1.9 -6.6A1.9 1.9 0 0 1 1.9 -6.6C1.9 -4.6 0.5 -2.6 0 -0.6Z"/><path transform="rotate(60)" d="M0 -0.6C-0.5 -2.6 -1.9 -4.6 -1.9 -6.6A1.9 1.9 0 0 1 1.9 -6.6C1.9 -4.6 0.5 -2.6 0 -0.6Z"/><path transform="rotate(120)" d="M0 -0.6C-0.5 -2.6 -1.9 -4.6 -1.9 -6.6A1.9 1.9 0 0 1 1.9 -6.6C1.9 -4.6 0.5 -2.6 0 -0.6Z"/><path transform="rotate(180)" d="M0 -0.6C-0.5 -2.6 -1.9 -4.6 -1.9 -6.6A1.9 1.9 0 0 1 1.9 -6.6C1.9 -4.6 0.5 -2.6 0 -0.6Z"/><path transform="rotate(240)" d="M0 -0.6C-0.5 -2.6 -1.9 -4.6 -1.9 -6.6A1.9 1.9 0 0 1 1.9 -6.6C1.9 -4.6 0.5 -2.6 0 -0.6Z"/><path transform="rotate(300)" d="M0 -0.6C-0.5 -2.6 -1.9 -4.6 -1.9 -6.6A1.9 1.9 0 0 1 1.9 -6.6C1.9 -4.6 0.5 -2.6 0 -0.6Z"/></g>
<g transform="translate(479.471 638.8) scale(1.058)" fill="#000"><circle r="0.9"/><path transform="rotate(0)" d="M0 -0.6C-0.5 -2.6 -1.9 -4.6 -1.9 -6.6A1.9 1.9 0 0 1 1.9 -6.6C1.9 -4.6 0.5 -2.6 0 -0.6Z"/><path transform="rotate(60)" d="M0 -0.6C-0.5 -2.6 -1.9 -4.6 -1.9 -6.6A1.9 1.9 0 0 1 1.9 -6.6C1.9 -4.6 0.5 -2.6 0 -0.6Z"/><path transform="rotate(120)" d="M0 -0.6C-0.5 -2.6 -1.9 -4.6 -1.9 -6.6A1.9 1.9 0 0 1 1.9 -6.6C1.9 -4.6 0.5 -2.6 0 -0.6Z"/><path transform="rotate(180)" d="M0 -0.6C-0.5 -2.6 -1.9 -4.6 -1.9 -6.6A1.9 1.9 0 0 1 1.9 -6.6C1.9 -4.6 0.5 -2.6 0 -0.6Z"/><path transform="rotate(240)" d="M0 -0.6C-0.5 -2.6 -1.9 -4.6 -1.9 -6.6A1.9 1.9 0 0 1 1.9 -6.6C1.9 -4.6 0.5 -2.6 0 -0.6Z"/><path transform="rotate(300)" d="M0 -0.6C-0.5 -2.6 -1.9 -4.6 -1.9 -6.6A1.9 1.9 0 0 1 1.9 -6.6C1.9 -4.6 0.5 -2.6 0 -0.6Z"/></g>
<g transform="translate(500.5 638.8) scale(1.058)" fill="#000"><circle r="0.9"/><path transform="rotate(0)" d="M0 -0.6C-0.5 -2.6 -1.9 -4.6 -1.9 -6.6A1.9 1.9 0 0 1 1.9 -6.6C1.9 -4.6 0.5 -2.6 0 -0.6Z"/><path transform="rotate(60)" d="M0 -0.6C-0.5 -2.6 -1.9 -4.6 -1.9 -6.6A1.9 1.9 0 0 1 1.9 -6.6C1.9 -4.6 0.5 -2.6 0 -0.6Z"/><path transform="rotate(120)" d="M0 -0.6C-0.5 -2.6 -1.9 -4.6 -1.9 -6.6A1.9 1.9 0 0 1 1.9 -6.6C1.9 -4.6 0.5 -2.6 0 -0.6Z"/><path transform="rotate(180)" d="M0 -0.6C-0.5 -2.6 -1.9 -4.6 -1.9 -6.6A1.9 1.9 0 0 1 1.9 -6.6C1.9 -4.6 0.5 -2.6 0 -0.6Z"/><path transform="rotate(240)" d="M0 -0.6C-0.5 -2.6 -1.9 -4.6 -1.9 -6.6A1.9 1.9 0 0 1 1.9 -6.6C1.9 -4.6 0.5 -2.6 0 -0.6Z"/><path transform="rotate(300)" d="M0 -0.6C-0.5 -2.6 -1.9 -4.6 -1.9 -6.6A1.9 1.9 0 0 1 1.9 -6.6C1.9 -4.6 0.5 -2.6 0 -0.6Z"/></g>
<g transform="translate(521.529 638.8) scale(1.058)" fill="#000"><circle r="0.9"/><path transform="rotate(0)" d="M0 -0.6C-0.5 -2.6 -1.9 -4.6 -1.9 -6.6A1.9 1.9 0 0 1 1.9 -6.6C1.9 -4.6 0.5 -2.6 0 -0.6Z"/><path transform="rotate(60)" d="M0 -0.6C-0.5 -2.6 -1.9 -4.6 -1.9 -6.6A1.9 1.9 0 0 1 1.9 -6.6C1.9 -4.6 0.5 -2.6 0 -0.6Z"/><path transform="rotate(120)" d="M0 -0.6C-0.5 -2.6 -1.9 -4.6 -1.9 -6.6A1.9 1.9 0 0 1 1.9 -6.6C1.9 -4.6 0.5 -2.6 0 -0.6Z"/><path transform="rotate(180)" d="M0 -0.6C-0.5 -2.6 -1.9 -4.6 -1.9 -6.6A1.9 1.9 0 0 1 1.9 -6.6C1.9 -4.6 0.5 -2.6 0 -0.6Z"/><path transform="rotate(240)" d="M0 -0.6C-0.5 -2.6 -1.9 -4.6 -1.9 -6.6A1.9 1.9 0 0 1 1.9 -6.6C1.9 -4.6 0.5 -2.6 0 -0.6Z"/><path transform="rotate(300)" d="M0 -0.6C-0.5 -2.6 -1.9 -4.6 -1.9 -6.6A1.9 1.9 0 0 1 1.9 -6.6C1.9 -4.6 0.5 -2.6 0 -0.6Z"/></g>
<text transform="matrix(0.382 0 0 0.406 224.191 1130.894)" font-family="Liberation Serif" font-weight="bold" font-style="normal" font-size="100" fill="#000" xml:space="preserve">Ctr</text>
<text transform="matrix(0.375 0 0 0.396 340.724 1128.409)" font-family="Liberation Serif" font-weight="bold" font-style="normal" font-size="100" fill="#000" xml:space="preserve">SYN</text>
<text transform="matrix(0.373 0 0 0.4 472.782 1130.5)" font-family="Liberation Serif" font-weight="bold" font-style="normal" font-size="100" fill="#000" xml:space="preserve">ISO</text>
<line x1="1005.4" y1="616.7" x2="1005.4" y2="1074.25" stroke="#000000" stroke-width="4.3" stroke-linecap="butt"/>
<line x1="988" y1="1072.1" x2="1424.1" y2="1072.1" stroke="#000000" stroke-width="4.3" stroke-linecap="butt"/>
<line x1="988" y1="619" x2="1005.4" y2="619" stroke="#000000" stroke-width="4.5" stroke-linecap="butt"/>
<text transform="matrix(0.314 0 0 0.346 948.402 630.937)" font-family="Liberation Sans" font-weight="bold" font-style="normal" font-size="100" xml:space="preserve">20</text>
<line x1="988" y1="732.3" x2="1005.4" y2="732.3" stroke="#000000" stroke-width="4.5" stroke-linecap="butt"/>
<text transform="matrix(0.314 0 0 0.346 965.986 744.237)" font-family="Liberation Sans" font-weight="bold" font-style="normal" font-size="100" xml:space="preserve">0</text>
<line x1="988" y1="845.6" x2="1005.4" y2="845.6" stroke="#000000" stroke-width="4.5" stroke-linecap="butt"/>
<text transform="matrix(0.314 0 0 0.346 938.04 857.537)" font-family="Liberation Sans" font-weight="bold" font-style="normal" font-size="100" xml:space="preserve">-20</text>
<line x1="988" y1="958.9" x2="1005.4" y2="958.9" stroke="#000000" stroke-width="4.5" stroke-linecap="butt"/>
<text transform="matrix(0.314 0 0 0.346 938.04 970.837)" font-family="Liberation Sans" font-weight="bold" font-style="normal" font-size="100" xml:space="preserve">-40</text>
<line x1="988" y1="1072.2" x2="1005.4" y2="1072.2" stroke="#000000" stroke-width="4.5" stroke-linecap="butt"/>
<text transform="matrix(0.314 0 0 0.346 938.04 1084.137)" font-family="Liberation Sans" font-weight="bold" font-style="normal" font-size="100" xml:space="preserve">-60</text>
<line x1="1088.8" y1="1072.1" x2="1088.8" y2="1091" stroke="#000000" stroke-width="4.5" stroke-linecap="butt"/>
<line x1="1213.7" y1="1072.1" x2="1213.7" y2="1091" stroke="#000000" stroke-width="4.5" stroke-linecap="butt"/>
<line x1="1338.5" y1="1072.1" x2="1338.5" y2="1091" stroke="#000000" stroke-width="4.5" stroke-linecap="butt"/>
<circle cx="1018" cy="732.7" r="2.25"/>
<circle cx="1030.553" cy="732.7" r="2.25"/>
<circle cx="1043.106" cy="732.7" r="2.25"/>
<circle cx="1055.659" cy="732.7" r="2.25"/>
<circle cx="1068.213" cy="732.7" r="2.25"/>
<circle cx="1080.766" cy="732.7" r="2.25"/>
<circle cx="1093.319" cy="732.7" r="2.25"/>
<circle cx="1105.872" cy="732.7" r="2.25"/>
<circle cx="1118.425" cy="732.7" r="2.25"/>
<circle cx="1130.978" cy="732.7" r="2.25"/>
<circle cx="1143.531" cy="732.7" r="2.25"/>
<circle cx="1156.084" cy="732.7" r="2.25"/>
<circle cx="1168.638" cy="732.7" r="2.25"/>
<circle cx="1181.191" cy="732.7" r="2.25"/>
<circle cx="1193.744" cy="732.7" r="2.25"/>
<circle cx="1206.297" cy="732.7" r="2.25"/>
<circle cx="1218.85" cy="732.7" r="2.25"/>
<circle cx="1231.403" cy="732.7" r="2.25"/>
<circle cx="1243.956" cy="732.7" r="2.25"/>
<circle cx="1256.509" cy="732.7" r="2.25"/>
<circle cx="1269.062" cy="732.7" r="2.25"/>
<circle cx="1281.616" cy="732.7" r="2.25"/>
<circle cx="1294.169" cy="732.7" r="2.25"/>
<circle cx="1306.722" cy="732.7" r="2.25"/>
<circle cx="1319.275" cy="732.7" r="2.25"/>
<circle cx="1331.828" cy="732.7" r="2.25"/>
<circle cx="1344.381" cy="732.7" r="2.25"/>
<circle cx="1356.934" cy="732.7" r="2.25"/>
<circle cx="1369.488" cy="732.7" r="2.25"/>
<circle cx="1382.041" cy="732.7" r="2.25"/>
<circle cx="1394.594" cy="732.7" r="2.25"/>
<circle cx="1407.147" cy="732.7" r="2.25"/>
<circle cx="1419.7" cy="732.7" r="2.25"/>
<line x1="1088.8" y1="648.3" x2="1088.8" y2="675" stroke="#000000" stroke-width="5.67" stroke-linecap="butt"/>
<line x1="1068.15" y1="648.3" x2="1109.45" y2="648.3" stroke="#000000" stroke-width="6.3" stroke-linecap="butt"/>
<line x1="1088.8" y1="726.8" x2="1088.8" y2="774.9" stroke="#000000" stroke-width="5.67" stroke-linecap="butt"/>
<line x1="1068.15" y1="774.9" x2="1109.45" y2="774.9" stroke="#000000" stroke-width="6.3" stroke-linecap="butt"/>
<rect x="1050.3" y="675" width="77" height="51.8" fill="none" stroke="#000000" stroke-width="6.3" stroke-linejoin="miter"/>
<line x1="1050.3" y1="717.3" x2="1127.3" y2="717.3" stroke="#000000" stroke-width="6.3" stroke-linecap="butt"/>
<line x1="1213.8" y1="917.4" x2="1213.8" y2="951.8" stroke="#0000ff" stroke-width="5.67" stroke-linecap="butt"/>
<line x1="1193.15" y1="917.4" x2="1234.45" y2="917.4" stroke="#0000ff" stroke-width="6.3" stroke-linecap="butt"/>
<line x1="1213.8" y1="979.7" x2="1213.8" y2="1000.4" stroke="#0000ff" stroke-width="5.67" stroke-linecap="butt"/>
<line x1="1193.15" y1="1000.4" x2="1234.45" y2="1000.4" stroke="#0000ff" stroke-width="6.3" stroke-linecap="butt"/>
<rect x="1175.2" y="951.8" width="77.1" height="27.9" fill="none" stroke="#0000ff" stroke-width="6.3" stroke-linejoin="miter"/>
<line x1="1175.2" y1="979.7" x2="1252.3" y2="979.7" stroke="#0000ff" stroke-width="6.3" stroke-linecap="butt"/>
<line x1="1338.8" y1="737.8" x2="1338.8" y2="778.9" stroke="#ff0022" stroke-width="5.67" stroke-linecap="butt"/>
<line x1="1318.15" y1="737.8" x2="1359.45" y2="737.8" stroke="#ff0022" stroke-width="6.3" stroke-linecap="butt"/>
<line x1="1338.8" y1="944.8" x2="1338.8" y2="981" stroke="#ff0022" stroke-width="5.67" stroke-linecap="butt"/>
<line x1="1318.15" y1="981" x2="1359.45" y2="981" stroke="#ff0022" stroke-width="6.3" stroke-linecap="butt"/>
<rect x="1300.2" y="778.9" width="77.1" height="165.9" fill="none" stroke="#ff0022" stroke-width="6.3" stroke-linejoin="miter"/>
<line x1="1300.2" y1="941.5" x2="1377.3" y2="941.5" stroke="#ff0022" stroke-width="6.3" stroke-linecap="butt"/>
<g transform="translate(1193.465 882.5) scale(1.07)" fill="#000"><circle r="0.9"/><path transform="rotate(0)" d="M0 -0.6C-0.5 -2.6 -1.9 -4.6 -1.9 -6.6A1.9 1.9 0 0 1 1.9 -6.6C1.9 -4.6 0.5 -2.6 0 -0.6Z"/><path transform="rotate(60)" d="M0 -0.6C-0.5 -2.6 -1.9 -4.6 -1.9 -6.6A1.9 1.9 0 0 1 1.9 -6.6C1.9 -4.6 0.5 -2.6 0 -0.6Z"/><path transform="rotate(120)" d="M0 -0.6C-0.5 -2.6 -1.9 -4.6 -1.9 -6.6A1.9 1.9 0 0 1 1.9 -6.6C1.9 -4.6 0.5 -2.6 0 -0.6Z"/><path transform="rotate(180)" d="M0 -0.6C-0.5 -2.6 -1.9 -4.6 -1.9 -6.6A1.9 1.9 0 0 1 1.9 -6.6C1.9 -4.6 0.5 -2.6 0 -0.6Z"/><path transform="rotate(240)" d="M0 -0.6C-0.5 -2.6 -1.9 -4.6 -1.9 -6.6A1.9 1.9 0 0 1 1.9 -6.6C1.9 -4.6 0.5 -2.6 0 -0.6Z"/><path transform="rotate(300)" d="M0 -0.6C-0.5 -2.6 -1.9 -4.6 -1.9 -6.6A1.9 1.9 0 0 1 1.9 -6.6C1.9 -4.6 0.5 -2.6 0 -0.6Z"/></g>
<g transform="translate(1214.2 882.5) scale(1.07)" fill="#000"><circle r="0.9"/><path transform="rotate(0)" d="M0 -0.6C-0.5 -2.6 -1.9 -4.6 -1.9 -6.6A1.9 1.9 0 0 1 1.9 -6.6C1.9 -4.6 0.5 -2.6 0 -0.6Z"/><path transform="rotate(60)" d="M0 -0.6C-0.5 -2.6 -1.9 -4.6 -1.9 -6.6A1.9 1.9 0 0 1 1.9 -6.6C1.9 -4.6 0.5 -2.6 0 -0.6Z"/><path transform="rotate(120)" d="M0 -0.6C-0.5 -2.6 -1.9 -4.6 -1.9 -6.6A1.9 1.9 0 0 1 1.9 -6.6C1.9 -4.6 0.5 -2.6 0 -0.6Z"/><path transform="rotate(180)" d="M0 -0.6C-0.5 -2.6 -1.9 -4.6 -1.9 -6.6A1.9 1.9 0 0 1 1.9 -6.6C1.9 -4.6 0.5 -2.6 0 -0.6Z"/><path transform="rotate(240)" d="M0 -0.6C-0.5 -2.6 -1.9 -4.6 -1.9 -6.6A1.9 1.9 0 0 1 1.9 -6.6C1.9 -4.6 0.5 -2.6 0 -0.6Z"/><path transform="rotate(300)" d="M0 -0.6C-0.5 -2.6 -1.9 -4.6 -1.9 -6.6A1.9 1.9 0 0 1 1.9 -6.6C1.9 -4.6 0.5 -2.6 0 -0.6Z"/></g>
<g transform="translate(1234.935 882.5) scale(1.07)" fill="#000"><circle r="0.9"/><path transform="rotate(0)" d="M0 -0.6C-0.5 -2.6 -1.9 -4.6 -1.9 -6.6A1.9 1.9 0 0 1 1.9 -6.6C1.9 -4.6 0.5 -2.6 0 -0.6Z"/><path transform="rotate(60)" d="M0 -0.6C-0.5 -2.6 -1.9 -4.6 -1.9 -6.6A1.9 1.9 0 0 1 1.9 -6.6C1.9 -4.6 0.5 -2.6 0 -0.6Z"/><path transform="rotate(120)" d="M0 -0.6C-0.5 -2.6 -1.9 -4.6 -1.9 -6.6A1.9 1.9 0 0 1 1.9 -6.6C1.9 -4.6 0.5 -2.6 0 -0.6Z"/><path transform="rotate(180)" d="M0 -0.6C-0.5 -2.6 -1.9 -4.6 -1.9 -6.6A1.9 1.9 0 0 1 1.9 -6.6C1.9 -4.6 0.5 -2.6 0 -0.6Z"/><path transform="rotate(240)" d="M0 -0.6C-0.5 -2.6 -1.9 -4.6 -1.9 -6.6A1.9 1.9 0 0 1 1.9 -6.6C1.9 -4.6 0.5 -2.6 0 -0.6Z"/><path transform="rotate(300)" d="M0 -0.6C-0.5 -2.6 -1.9 -4.6 -1.9 -6.6A1.9 1.9 0 0 1 1.9 -6.6C1.9 -4.6 0.5 -2.6 0 -0.6Z"/></g>
<g transform="translate(1315 699.2) scale(1)" fill="#000"><circle r="0.9"/><path transform="rotate(0)" d="M0 -0.6C-0.5 -2.6 -1.9 -4.6 -1.9 -6.6A1.9 1.9 0 0 1 1.9 -6.6C1.9 -4.6 0.5 -2.6 0 -0.6Z"/><path transform="rotate(60)" d="M0 -0.6C-0.5 -2.6 -1.9 -4.6 -1.9 -6.6A1.9 1.9 0 0 1 1.9 -6.6C1.9 -4.6 0.5 -2.6 0 -0.6Z"/><path transform="rotate(120)" d="M0 -0.6C-0.5 -2.6 -1.9 -4.6 -1.9 -6.6A1.9 1.9 0 0 1 1.9 -6.6C1.9 -4.6 0.5 -2.6 0 -0.6Z"/><path transform="rotate(180)" d="M0 -0.6C-0.5 -2.6 -1.9 -4.6 -1.9 -6.6A1.9 1.9 0 0 1 1.9 -6.6C1.9 -4.6 0.5 -2.6 0 -0.6Z"/><path transform="rotate(240)" d="M0 -0.6C-0.5 -2.6 -1.9 -4.6 -1.9 -6.6A1.9 1.9 0 0 1 1.9 -6.6C1.9 -4.6 0.5 -2.6 0 -0.6Z"/><path transform="rotate(300)" d="M0 -0.6C-0.5 -2.6 -1.9 -4.6 -1.9 -6.6A1.9 1.9 0 0 1 1.9 -6.6C1.9 -4.6 0.5 -2.6 0 -0.6Z"/></g>
<g transform="translate(1336.3 699.2) scale(1)" fill="#000"><circle r="0.9"/><path transform="rotate(0)" d="M0 -0.6C-0.5 -2.6 -1.9 -4.6 -1.9 -6.6A1.9 1.9 0 0 1 1.9 -6.6C1.9 -4.6 0.5 -2.6 0 -0.6Z"/><path transform="rotate(60)" d="M0 -0.6C-0.5 -2.6 -1.9 -4.6 -1.9 -6.6A1.9 1.9 0 0 1 1.9 -6.6C1.9 -4.6 0.5 -2.6 0 -0.6Z"/><path transform="rotate(120)" d="M0 -0.6C-0.5 -2.6 -1.9 -4.6 -1.9 -6.6A1.9 1.9 0 0 1 1.9 -6.6C1.9 -4.6 0.5 -2.6 0 -0.6Z"/><path transform="rotate(180)" d="M0 -0.6C-0.5 -2.6 -1.9 -4.6 -1.9 -6.6A1.9 1.9 0 0 1 1.9 -6.6C1.9 -4.6 0.5 -2.6 0 -0.6Z"/><path transform="rotate(240)" d="M0 -0.6C-0.5 -2.6 -1.9 -4.6 -1.9 -6.6A1.9 1.9 0 0 1 1.9 -6.6C1.9 -4.6 0.5 -2.6 0 -0.6Z"/><path transform="rotate(300)" d="M0 -0.6C-0.5 -2.6 -1.9 -4.6 -1.9 -6.6A1.9 1.9 0 0 1 1.9 -6.6C1.9 -4.6 0.5 -2.6 0 -0.6Z"/></g>
<g transform="translate(1357.6 699.2) scale(1)" fill="#000"><circle r="0.9"/><path transform="rotate(0)" d="M0 -0.6C-0.5 -2.6 -1.9 -4.6 -1.9 -6.6A1.9 1.9 0 0 1 1.9 -6.6C1.9 -4.6 0.5 -2.6 0 -0.6Z"/><path transform="rotate(60)" d="M0 -0.6C-0.5 -2.6 -1.9 -4.6 -1.9 -6.6A1.9 1.9 0 0 1 1.9 -6.6C1.9 -4.6 0.5 -2.6 0 -0.6Z"/><path transform="rotate(120)" d="M0 -0.6C-0.5 -2.6 -1.9 -4.6 -1.9 -6.6A1.9 1.9 0 0 1 1.9 -6.6C1.9 -4.6 0.5 -2.6 0 -0.6Z"/><path transform="rotate(180)" d="M0 -0.6C-0.5 -2.6 -1.9 -4.6 -1.9 -6.6A1.9 1.9 0 0 1 1.9 -6.6C1.9 -4.6 0.5 -2.6 0 -0.6Z"/><path transform="rotate(240)" d="M0 -0.6C-0.5 -2.6 -1.9 -4.6 -1.9 -6.6A1.9 1.9 0 0 1 1.9 -6.6C1.9 -4.6 0.5 -2.6 0 -0.6Z"/><path transform="rotate(300)" d="M0 -0.6C-0.5 -2.6 -1.9 -4.6 -1.9 -6.6A1.9 1.9 0 0 1 1.9 -6.6C1.9 -4.6 0.5 -2.6 0 -0.6Z"/></g>
<text transform="matrix(0.382 0 0 0.406 1060.191 1130.894)" font-family="Liberation Serif" font-weight="bold" font-style="normal" font-size="100" fill="#000" xml:space="preserve">Ctr</text>
<text transform="matrix(0.375 0 0 0.4 1175.924 1130.5)" font-family="Liberation Serif" font-weight="bold" font-style="normal" font-size="100" fill="#000" xml:space="preserve">SYN</text>
<text transform="matrix(0.373 0 0 0.4 1306.682 1130.5)" font-family="Liberation Serif" font-weight="bold" font-style="normal" font-size="100" fill="#000" xml:space="preserve">ISO</text>
<line x1="196.4" y1="1271" x2="196.4" y2="1728.15" stroke="#000000" stroke-width="4.3" stroke-linecap="butt"/>
<line x1="178.9" y1="1726" x2="612" y2="1726" stroke="#000000" stroke-width="4.3" stroke-linecap="butt"/>
<line x1="178.9" y1="1273.7" x2="196.4" y2="1273.7" stroke="#000000" stroke-width="4.5" stroke-linecap="butt"/>
<text transform="matrix(0.314 0 0 0.346 122.218 1285.637)" font-family="Liberation Sans" font-weight="bold" font-style="normal" font-size="100" xml:space="preserve">200</text>
<line x1="178.9" y1="1364.3" x2="196.4" y2="1364.3" stroke="#000000" stroke-width="4.5" stroke-linecap="butt"/>
<text transform="matrix(0.314 0 0 0.346 122.218 1376.237)" font-family="Liberation Sans" font-weight="bold" font-style="normal" font-size="100" xml:space="preserve">150</text>
<line x1="178.9" y1="1454.8" x2="196.4" y2="1454.8" stroke="#000000" stroke-width="4.5" stroke-linecap="butt"/>
<text transform="matrix(0.314 0 0 0.346 122.218 1466.737)" font-family="Liberation Sans" font-weight="bold" font-style="normal" font-size="100" xml:space="preserve">100</text>
<line x1="178.9" y1="1545.4" x2="196.4" y2="1545.4" stroke="#000000" stroke-width="4.5" stroke-linecap="butt"/>
<text transform="matrix(0.314 0 0 0.346 139.802 1557.337)" font-family="Liberation Sans" font-weight="bold" font-style="normal" font-size="100" xml:space="preserve">50</text>
<line x1="178.9" y1="1635.9" x2="196.4" y2="1635.9" stroke="#000000" stroke-width="4.5" stroke-linecap="butt"/>
<text transform="matrix(0.314 0 0 0.346 157.386 1647.837)" font-family="Liberation Sans" font-weight="bold" font-style="normal" font-size="100" xml:space="preserve">0</text>
<line x1="178.9" y1="1726.5" x2="196.4" y2="1726.5" stroke="#000000" stroke-width="4.5" stroke-linecap="butt"/>
<text transform="matrix(0.314 0 0 0.346 129.44 1738.437)" font-family="Liberation Sans" font-weight="bold" font-style="normal" font-size="100" xml:space="preserve">-50</text>
<line x1="279.4" y1="1726" x2="279.4" y2="1745" stroke="#000000" stroke-width="4.5" stroke-linecap="butt"/>
<line x1="403.1" y1="1726" x2="403.1" y2="1745" stroke="#000000" stroke-width="4.5" stroke-linecap="butt"/>
<line x1="527.5" y1="1726" x2="527.5" y2="1745" stroke="#000000" stroke-width="4.5" stroke-linecap="butt"/>
<circle cx="208.9" cy="1635.5" r="2.25"/>
<circle cx="221.322" cy="1635.5" r="2.25"/>
<circle cx="233.744" cy="1635.5" r="2.25"/>
<circle cx="246.166" cy="1635.5" r="2.25"/>
<circle cx="258.587" cy="1635.5" r="2.25"/>
<circle cx="271.009" cy="1635.5" r="2.25"/>
<circle cx="283.431" cy="1635.5" r="2.25"/>
<circle cx="295.853" cy="1635.5" r="2.25"/>
<circle cx="308.275" cy="1635.5" r="2.25"/>
<circle cx="320.697" cy="1635.5" r="2.25"/>
<circle cx="333.119" cy="1635.5" r="2.25"/>
<circle cx="345.541" cy="1635.5" r="2.25"/>
<circle cx="357.962" cy="1635.5" r="2.25"/>
<circle cx="370.384" cy="1635.5" r="2.25"/>
<circle cx="382.806" cy="1635.5" r="2.25"/>
<circle cx="395.228" cy="1635.5" r="2.25"/>
<circle cx="407.65" cy="1635.5" r="2.25"/>
<circle cx="420.072" cy="1635.5" r="2.25"/>
<circle cx="432.494" cy="1635.5" r="2.25"/>
<circle cx="444.916" cy="1635.5" r="2.25"/>
<circle cx="457.337" cy="1635.5" r="2.25"/>
<circle cx="469.759" cy="1635.5" r="2.25"/>
<circle cx="482.181" cy="1635.5" r="2.25"/>
<circle cx="494.603" cy="1635.5" r="2.25"/>
<circle cx="507.025" cy="1635.5" r="2.25"/>
<circle cx="519.447" cy="1635.5" r="2.25"/>
<circle cx="531.869" cy="1635.5" r="2.25"/>
<circle cx="544.291" cy="1635.5" r="2.25"/>
<circle cx="556.712" cy="1635.5" r="2.25"/>
<circle cx="569.134" cy="1635.5" r="2.25"/>
<circle cx="581.556" cy="1635.5" r="2.25"/>
<circle cx="593.978" cy="1635.5" r="2.25"/>
<circle cx="606.4" cy="1635.5" r="2.25"/>
<line x1="279.3" y1="1561.7" x2="279.3" y2="1598.4" stroke="#000000" stroke-width="5.67" stroke-linecap="butt"/>
<line x1="258.65" y1="1561.7" x2="299.95" y2="1561.7" stroke="#000000" stroke-width="6.3" stroke-linecap="butt"/>
<line x1="279.3" y1="1625.3" x2="279.3" y2="1639" stroke="#000000" stroke-width="5.67" stroke-linecap="butt"/>
<line x1="258.65" y1="1639" x2="299.95" y2="1639" stroke="#000000" stroke-width="6.3" stroke-linecap="butt"/>
<rect x="241.1" y="1598.4" width="76.3" height="26.9" fill="none" stroke="#000000" stroke-width="6.3" stroke-linejoin="miter"/>
<line x1="241.1" y1="1618.4" x2="317.4" y2="1618.4" stroke="#000000" stroke-width="6.3" stroke-linecap="butt"/>
<rect x="238" y="1615.2" width="82.5" height="13.3" fill="#000000"/>
<line x1="403.1" y1="1358.3" x2="403.1" y2="1389.2" stroke="#0000ff" stroke-width="5.67" stroke-linecap="butt"/>
<line x1="382.45" y1="1358.3" x2="423.75" y2="1358.3" stroke="#0000ff" stroke-width="6.3" stroke-linecap="butt"/>
<line x1="403.1" y1="1404.4" x2="403.1" y2="1428.4" stroke="#0000ff" stroke-width="5.67" stroke-linecap="butt"/>
<line x1="382.45" y1="1428.4" x2="423.75" y2="1428.4" stroke="#0000ff" stroke-width="6.3" stroke-linecap="butt"/>
<rect x="365.2" y="1389.2" width="76.4" height="15.2" fill="none" stroke="#0000ff" stroke-width="6.3" stroke-linejoin="miter"/>
<line x1="365.2" y1="1392.9" x2="441.6" y2="1392.9" stroke="#0000ff" stroke-width="6.3" stroke-linecap="butt"/>
<line x1="527.7" y1="1412" x2="527.7" y2="1434.6" stroke="#ff0000" stroke-width="5.67" stroke-linecap="butt"/>
<line x1="507.05" y1="1412" x2="548.35" y2="1412" stroke="#ff0000" stroke-width="6.3" stroke-linecap="butt"/>
<line x1="527.7" y1="1517.4" x2="527.7" y2="1576.3" stroke="#ff0000" stroke-width="5.67" stroke-linecap="butt"/>
<line x1="507.05" y1="1576.3" x2="548.35" y2="1576.3" stroke="#ff0000" stroke-width="6.3" stroke-linecap="butt"/>
<rect x="489.4" y="1434.6" width="76.6" height="82.8" fill="none" stroke="#ff0000" stroke-width="6.3" stroke-linejoin="miter"/>
<line x1="489.4" y1="1475" x2="566" y2="1475" stroke="#ff0000" stroke-width="6.3" stroke-linecap="butt"/>
<g transform="translate(381.712 1330.85) scale(1.076)" fill="#000"><circle r="0.9"/><path transform="rotate(0)" d="M0 -0.6C-0.5 -2.6 -1.9 -4.6 -1.9 -6.6A1.9 1.9 0 0 1 1.9 -6.6C1.9 -4.6 0.5 -2.6 0 -0.6Z"/><path transform="rotate(60)" d="M0 -0.6C-0.5 -2.6 -1.9 -4.6 -1.9 -6.6A1.9 1.9 0 0 1 1.9 -6.6C1.9 -4.6 0.5 -2.6 0 -0.6Z"/><path transform="rotate(120)" d="M0 -0.6C-0.5 -2.6 -1.9 -4.6 -1.9 -6.6A1.9 1.9 0 0 1 1.9 -6.6C1.9 -4.6 0.5 -2.6 0 -0.6Z"/><path transform="rotate(180)" d="M0 -0.6C-0.5 -2.6 -1.9 -4.6 -1.9 -6.6A1.9 1.9 0 0 1 1.9 -6.6C1.9 -4.6 0.5 -2.6 0 -0.6Z"/><path transform="rotate(240)" d="M0 -0.6C-0.5 -2.6 -1.9 -4.6 -1.9 -6.6A1.9 1.9 0 0 1 1.9 -6.6C1.9 -4.6 0.5 -2.6 0 -0.6Z"/><path transform="rotate(300)" d="M0 -0.6C-0.5 -2.6 -1.9 -4.6 -1.9 -6.6A1.9 1.9 0 0 1 1.9 -6.6C1.9 -4.6 0.5 -2.6 0 -0.6Z"/></g>
<g transform="translate(402.2 1330.85) scale(1.076)" fill="#000"><circle r="0.9"/><path transform="rotate(0)" d="M0 -0.6C-0.5 -2.6 -1.9 -4.6 -1.9 -6.6A1.9 1.9 0 0 1 1.9 -6.6C1.9 -4.6 0.5 -2.6 0 -0.6Z"/><path transform="rotate(60)" d="M0 -0.6C-0.5 -2.6 -1.9 -4.6 -1.9 -6.6A1.9 1.9 0 0 1 1.9 -6.6C1.9 -4.6 0.5 -2.6 0 -0.6Z"/><path transform="rotate(120)" d="M0 -0.6C-0.5 -2.6 -1.9 -4.6 -1.9 -6.6A1.9 1.9 0 0 1 1.9 -6.6C1.9 -4.6 0.5 -2.6 0 -0.6Z"/><path transform="rotate(180)" d="M0 -0.6C-0.5 -2.6 -1.9 -4.6 -1.9 -6.6A1.9 1.9 0 0 1 1.9 -6.6C1.9 -4.6 0.5 -2.6 0 -0.6Z"/><path transform="rotate(240)" d="M0 -0.6C-0.5 -2.6 -1.9 -4.6 -1.9 -6.6A1.9 1.9 0 0 1 1.9 -6.6C1.9 -4.6 0.5 -2.6 0 -0.6Z"/><path transform="rotate(300)" d="M0 -0.6C-0.5 -2.6 -1.9 -4.6 -1.9 -6.6A1.9 1.9 0 0 1 1.9 -6.6C1.9 -4.6 0.5 -2.6 0 -0.6Z"/></g>
<g transform="translate(422.688 1330.85) scale(1.076)" fill="#000"><circle r="0.9"/><path transform="rotate(0)" d="M0 -0.6C-0.5 -2.6 -1.9 -4.6 -1.9 -6.6A1.9 1.9 0 0 1 1.9 -6.6C1.9 -4.6 0.5 -2.6 0 -0.6Z"/><path transform="rotate(60)" d="M0 -0.6C-0.5 -2.6 -1.9 -4.6 -1.9 -6.6A1.9 1.9 0 0 1 1.9 -6.6C1.9 -4.6 0.5 -2.6 0 -0.6Z"/><path transform="rotate(120)" d="M0 -0.6C-0.5 -2.6 -1.9 -4.6 -1.9 -6.6A1.9 1.9 0 0 1 1.9 -6.6C1.9 -4.6 0.5 -2.6 0 -0.6Z"/><path transform="rotate(180)" d="M0 -0.6C-0.5 -2.6 -1.9 -4.6 -1.9 -6.6A1.9 1.9 0 0 1 1.9 -6.6C1.9 -4.6 0.5 -2.6 0 -0.6Z"/><path transform="rotate(240)" d="M0 -0.6C-0.5 -2.6 -1.9 -4.6 -1.9 -6.6A1.9 1.9 0 0 1 1.9 -6.6C1.9 -4.6 0.5 -2.6 0 -0.6Z"/><path transform="rotate(300)" d="M0 -0.6C-0.5 -2.6 -1.9 -4.6 -1.9 -6.6A1.9 1.9 0 0 1 1.9 -6.6C1.9 -4.6 0.5 -2.6 0 -0.6Z"/></g>
<g transform="translate(503.053 1383.95) scale(0.994)" fill="#000"><circle r="0.9"/><path transform="rotate(0)" d="M0 -0.6C-0.5 -2.6 -1.9 -4.6 -1.9 -6.6A1.9 1.9 0 0 1 1.9 -6.6C1.9 -4.6 0.5 -2.6 0 -0.6Z"/><path transform="rotate(60)" d="M0 -0.6C-0.5 -2.6 -1.9 -4.6 -1.9 -6.6A1.9 1.9 0 0 1 1.9 -6.6C1.9 -4.6 0.5 -2.6 0 -0.6Z"/><path transform="rotate(120)" d="M0 -0.6C-0.5 -2.6 -1.9 -4.6 -1.9 -6.6A1.9 1.9 0 0 1 1.9 -6.6C1.9 -4.6 0.5 -2.6 0 -0.6Z"/><path transform="rotate(180)" d="M0 -0.6C-0.5 -2.6 -1.9 -4.6 -1.9 -6.6A1.9 1.9 0 0 1 1.9 -6.6C1.9 -4.6 0.5 -2.6 0 -0.6Z"/><path transform="rotate(240)" d="M0 -0.6C-0.5 -2.6 -1.9 -4.6 -1.9 -6.6A1.9 1.9 0 0 1 1.9 -6.6C1.9 -4.6 0.5 -2.6 0 -0.6Z"/><path transform="rotate(300)" d="M0 -0.6C-0.5 -2.6 -1.9 -4.6 -1.9 -6.6A1.9 1.9 0 0 1 1.9 -6.6C1.9 -4.6 0.5 -2.6 0 -0.6Z"/></g>
<g transform="translate(523.95 1383.95) scale(0.994)" fill="#000"><circle r="0.9"/><path transform="rotate(0)" d="M0 -0.6C-0.5 -2.6 -1.9 -4.6 -1.9 -6.6A1.9 1.9 0 0 1 1.9 -6.6C1.9 -4.6 0.5 -2.6 0 -0.6Z"/><path transform="rotate(60)" d="M0 -0.6C-0.5 -2.6 -1.9 -4.6 -1.9 -6.6A1.9 1.9 0 0 1 1.9 -6.6C1.9 -4.6 0.5 -2.6 0 -0.6Z"/><path transform="rotate(120)" d="M0 -0.6C-0.5 -2.6 -1.9 -4.6 -1.9 -6.6A1.9 1.9 0 0 1 1.9 -6.6C1.9 -4.6 0.5 -2.6 0 -0.6Z"/><path transform="rotate(180)" d="M0 -0.6C-0.5 -2.6 -1.9 -4.6 -1.9 -6.6A1.9 1.9 0 0 1 1.9 -6.6C1.9 -4.6 0.5 -2.6 0 -0.6Z"/><path transform="rotate(240)" d="M0 -0.6C-0.5 -2.6 -1.9 -4.6 -1.9 -6.6A1.9 1.9 0 0 1 1.9 -6.6C1.9 -4.6 0.5 -2.6 0 -0.6Z"/><path transform="rotate(300)" d="M0 -0.6C-0.5 -2.6 -1.9 -4.6 -1.9 -6.6A1.9 1.9 0 0 1 1.9 -6.6C1.9 -4.6 0.5 -2.6 0 -0.6Z"/></g>
<g transform="translate(544.847 1383.95) scale(0.994)" fill="#000"><circle r="0.9"/><path transform="rotate(0)" d="M0 -0.6C-0.5 -2.6 -1.9 -4.6 -1.9 -6.6A1.9 1.9 0 0 1 1.9 -6.6C1.9 -4.6 0.5 -2.6 0 -0.6Z"/><path transform="rotate(60)" d="M0 -0.6C-0.5 -2.6 -1.9 -4.6 -1.9 -6.6A1.9 1.9 0 0 1 1.9 -6.6C1.9 -4.6 0.5 -2.6 0 -0.6Z"/><path transform="rotate(120)" d="M0 -0.6C-0.5 -2.6 -1.9 -4.6 -1.9 -6.6A1.9 1.9 0 0 1 1.9 -6.6C1.9 -4.6 0.5 -2.6 0 -0.6Z"/><path transform="rotate(180)" d="M0 -0.6C-0.5 -2.6 -1.9 -4.6 -1.9 -6.6A1.9 1.9 0 0 1 1.9 -6.6C1.9 -4.6 0.5 -2.6 0 -0.6Z"/><path transform="rotate(240)" d="M0 -0.6C-0.5 -2.6 -1.9 -4.6 -1.9 -6.6A1.9 1.9 0 0 1 1.9 -6.6C1.9 -4.6 0.5 -2.6 0 -0.6Z"/><path transform="rotate(300)" d="M0 -0.6C-0.5 -2.6 -1.9 -4.6 -1.9 -6.6A1.9 1.9 0 0 1 1.9 -6.6C1.9 -4.6 0.5 -2.6 0 -0.6Z"/></g>
<text transform="matrix(0.382 0 0 0.406 231.991 1784.794)" font-family="Liberation Serif" font-weight="bold" font-style="normal" font-size="100" fill="#000" xml:space="preserve">Ctr</text>
<text transform="matrix(0.375 0 0 0.4 363.324 1784.4)" font-family="Liberation Serif" font-weight="bold" font-style="normal" font-size="100" fill="#000" xml:space="preserve">SYN</text>
<text transform="matrix(0.373 0 0 0.407 499.282 1787.485)" font-family="Liberation Serif" font-weight="bold" font-style="normal" font-size="100" fill="#000" xml:space="preserve">ISO</text>
<line x1="1014.8" y1="1271" x2="1014.8" y2="1728.25" stroke="#000000" stroke-width="4.3" stroke-linecap="butt"/>
<line x1="997.9" y1="1726.1" x2="1433.3" y2="1726.1" stroke="#000000" stroke-width="4.3" stroke-linecap="butt"/>
<line x1="997.9" y1="1273.4" x2="1014.8" y2="1273.4" stroke="#000000" stroke-width="4.5" stroke-linecap="butt"/>
<text transform="matrix(0.314 0 0 0.346 958.502 1285.337)" font-family="Liberation Sans" font-weight="bold" font-style="normal" font-size="100" xml:space="preserve">30</text>
<line x1="997.9" y1="1363.8" x2="1014.8" y2="1363.8" stroke="#000000" stroke-width="4.5" stroke-linecap="butt"/>
<text transform="matrix(0.314 0 0 0.346 958.502 1375.737)" font-family="Liberation Sans" font-weight="bold" font-style="normal" font-size="100" xml:space="preserve">20</text>
<line x1="997.9" y1="1454.2" x2="1014.8" y2="1454.2" stroke="#000000" stroke-width="4.5" stroke-linecap="butt"/>
<text transform="matrix(0.314 0 0 0.346 958.502 1466.137)" font-family="Liberation Sans" font-weight="bold" font-style="normal" font-size="100" xml:space="preserve">10</text>
<line x1="997.9" y1="1544.7" x2="1014.8" y2="1544.7" stroke="#000000" stroke-width="4.5" stroke-linecap="butt"/>
<text transform="matrix(0.314 0 0 0.346 976.086 1556.637)" font-family="Liberation Sans" font-weight="bold" font-style="normal" font-size="100" xml:space="preserve">0</text>
<line x1="997.9" y1="1635.2" x2="1014.8" y2="1635.2" stroke="#000000" stroke-width="4.5" stroke-linecap="butt"/>
<text transform="matrix(0.314 0 0 0.346 948.14 1647.137)" font-family="Liberation Sans" font-weight="bold" font-style="normal" font-size="100" xml:space="preserve">-10</text>
<line x1="997.9" y1="1725.6" x2="1014.8" y2="1725.6" stroke="#000000" stroke-width="4.5" stroke-linecap="butt"/>
<text transform="matrix(0.314 0 0 0.346 948.14 1737.537)" font-family="Liberation Sans" font-weight="bold" font-style="normal" font-size="100" xml:space="preserve">-20</text>
<line x1="1098.4" y1="1726.1" x2="1098.4" y2="1744.9" stroke="#000000" stroke-width="4.5" stroke-linecap="butt"/>
<line x1="1223.2" y1="1726.1" x2="1223.2" y2="1744.9" stroke="#000000" stroke-width="4.5" stroke-linecap="butt"/>
<line x1="1348.3" y1="1726.1" x2="1348.3" y2="1744.9" stroke="#000000" stroke-width="4.5" stroke-linecap="butt"/>
<circle cx="1027.9" cy="1544.8" r="2.25"/>
<circle cx="1040.388" cy="1544.8" r="2.25"/>
<circle cx="1052.875" cy="1544.8" r="2.25"/>
<circle cx="1065.363" cy="1544.8" r="2.25"/>
<circle cx="1077.85" cy="1544.8" r="2.25"/>
<circle cx="1090.338" cy="1544.8" r="2.25"/>
<circle cx="1102.825" cy="1544.8" r="2.25"/>
<circle cx="1115.312" cy="1544.8" r="2.25"/>
<circle cx="1127.8" cy="1544.8" r="2.25"/>
<circle cx="1140.288" cy="1544.8" r="2.25"/>
<circle cx="1152.775" cy="1544.8" r="2.25"/>
<circle cx="1165.263" cy="1544.8" r="2.25"/>
<circle cx="1177.75" cy="1544.8" r="2.25"/>
<circle cx="1190.238" cy="1544.8" r="2.25"/>
<circle cx="1202.725" cy="1544.8" r="2.25"/>
<circle cx="1215.213" cy="1544.8" r="2.25"/>
<circle cx="1227.7" cy="1544.8" r="2.25"/>
<circle cx="1240.188" cy="1544.8" r="2.25"/>
<circle cx="1252.675" cy="1544.8" r="2.25"/>
<circle cx="1265.162" cy="1544.8" r="2.25"/>
<circle cx="1277.65" cy="1544.8" r="2.25"/>
<circle cx="1290.138" cy="1544.8" r="2.25"/>
<circle cx="1302.625" cy="1544.8" r="2.25"/>
<circle cx="1315.112" cy="1544.8" r="2.25"/>
<circle cx="1327.6" cy="1544.8" r="2.25"/>
<circle cx="1340.088" cy="1544.8" r="2.25"/>
<circle cx="1352.575" cy="1544.8" r="2.25"/>
<circle cx="1365.062" cy="1544.8" r="2.25"/>
<circle cx="1377.55" cy="1544.8" r="2.25"/>
<circle cx="1390.037" cy="1544.8" r="2.25"/>
<circle cx="1402.525" cy="1544.8" r="2.25"/>
<circle cx="1415.013" cy="1544.8" r="2.25"/>
<circle cx="1427.5" cy="1544.8" r="2.25"/>
<line x1="1098.3" y1="1527.8" x2="1098.3" y2="1579.9" stroke="#000000" stroke-width="5.67" stroke-linecap="butt"/>
<line x1="1077.65" y1="1527.8" x2="1118.95" y2="1527.8" stroke="#000000" stroke-width="6.3" stroke-linecap="butt"/>
<line x1="1098.3" y1="1663.6" x2="1098.3" y2="1710.4" stroke="#000000" stroke-width="5.67" stroke-linecap="butt"/>
<line x1="1077.65" y1="1710.4" x2="1118.95" y2="1710.4" stroke="#000000" stroke-width="6.3" stroke-linecap="butt"/>
<rect x="1059.8" y="1579.9" width="77" height="83.7" fill="none" stroke="#000000" stroke-width="6.3" stroke-linejoin="miter"/>
<line x1="1059.8" y1="1624.9" x2="1136.8" y2="1624.9" stroke="#000000" stroke-width="6.3" stroke-linecap="butt"/>
<line x1="1223.3" y1="1402.7" x2="1223.3" y2="1456" stroke="#0000ff" stroke-width="5.67" stroke-linecap="butt"/>
<line x1="1202.65" y1="1402.7" x2="1243.95" y2="1402.7" stroke="#0000ff" stroke-width="6.3" stroke-linecap="butt"/>
<line x1="1223.3" y1="1493.3" x2="1223.3" y2="1550.4" stroke="#0000ff" stroke-width="5.67" stroke-linecap="butt"/>
<line x1="1202.65" y1="1550.4" x2="1243.95" y2="1550.4" stroke="#0000ff" stroke-width="6.3" stroke-linecap="butt"/>
<rect x="1184.6" y="1456" width="77.4" height="37.3" fill="none" stroke="#0000ff" stroke-width="6.3" stroke-linejoin="miter"/>
<line x1="1184.6" y1="1464.4" x2="1262" y2="1464.4" stroke="#0000ff" stroke-width="6.3" stroke-linecap="butt"/>
<line x1="1348.4" y1="1468.9" x2="1348.4" y2="1519.3" stroke="#ff0022" stroke-width="5.67" stroke-linecap="butt"/>
<line x1="1327.75" y1="1519.3" x2="1369.05" y2="1519.3" stroke="#ff0022" stroke-width="6.3" stroke-linecap="butt"/>
<rect x="1309.8" y="1360.9" width="77.2" height="108" fill="none" stroke="#ff0022" stroke-width="6.3" stroke-linejoin="miter"/>
<line x1="1309.8" y1="1428.1" x2="1387" y2="1428.1" stroke="#ff0022" stroke-width="6.3" stroke-linecap="butt"/>
<g transform="translate(1203.23 1369.15) scale(1.041)" fill="#000"><circle r="0.9"/><path transform="rotate(0)" d="M0 -0.6C-0.5 -2.6 -1.9 -4.6 -1.9 -6.6A1.9 1.9 0 0 1 1.9 -6.6C1.9 -4.6 0.5 -2.6 0 -0.6Z"/><path transform="rotate(60)" d="M0 -0.6C-0.5 -2.6 -1.9 -4.6 -1.9 -6.6A1.9 1.9 0 0 1 1.9 -6.6C1.9 -4.6 0.5 -2.6 0 -0.6Z"/><path transform="rotate(120)" d="M0 -0.6C-0.5 -2.6 -1.9 -4.6 -1.9 -6.6A1.9 1.9 0 0 1 1.9 -6.6C1.9 -4.6 0.5 -2.6 0 -0.6Z"/><path transform="rotate(180)" d="M0 -0.6C-0.5 -2.6 -1.9 -4.6 -1.9 -6.6A1.9 1.9 0 0 1 1.9 -6.6C1.9 -4.6 0.5 -2.6 0 -0.6Z"/><path transform="rotate(240)" d="M0 -0.6C-0.5 -2.6 -1.9 -4.6 -1.9 -6.6A1.9 1.9 0 0 1 1.9 -6.6C1.9 -4.6 0.5 -2.6 0 -0.6Z"/><path transform="rotate(300)" d="M0 -0.6C-0.5 -2.6 -1.9 -4.6 -1.9 -6.6A1.9 1.9 0 0 1 1.9 -6.6C1.9 -4.6 0.5 -2.6 0 -0.6Z"/></g>
<g transform="translate(1224.2 1369.15) scale(1.041)" fill="#000"><circle r="0.9"/><path transform="rotate(0)" d="M0 -0.6C-0.5 -2.6 -1.9 -4.6 -1.9 -6.6A1.9 1.9 0 0 1 1.9 -6.6C1.9 -4.6 0.5 -2.6 0 -0.6Z"/><path transform="rotate(60)" d="M0 -0.6C-0.5 -2.6 -1.9 -4.6 -1.9 -6.6A1.9 1.9 0 0 1 1.9 -6.6C1.9 -4.6 0.5 -2.6 0 -0.6Z"/><path transform="rotate(120)" d="M0 -0.6C-0.5 -2.6 -1.9 -4.6 -1.9 -6.6A1.9 1.9 0 0 1 1.9 -6.6C1.9 -4.6 0.5 -2.6 0 -0.6Z"/><path transform="rotate(180)" d="M0 -0.6C-0.5 -2.6 -1.9 -4.6 -1.9 -6.6A1.9 1.9 0 0 1 1.9 -6.6C1.9 -4.6 0.5 -2.6 0 -0.6Z"/><path transform="rotate(240)" d="M0 -0.6C-0.5 -2.6 -1.9 -4.6 -1.9 -6.6A1.9 1.9 0 0 1 1.9 -6.6C1.9 -4.6 0.5 -2.6 0 -0.6Z"/><path transform="rotate(300)" d="M0 -0.6C-0.5 -2.6 -1.9 -4.6 -1.9 -6.6A1.9 1.9 0 0 1 1.9 -6.6C1.9 -4.6 0.5 -2.6 0 -0.6Z"/></g>
<g transform="translate(1245.17 1369.15) scale(1.041)" fill="#000"><circle r="0.9"/><path transform="rotate(0)" d="M0 -0.6C-0.5 -2.6 -1.9 -4.6 -1.9 -6.6A1.9 1.9 0 0 1 1.9 -6.6C1.9 -4.6 0.5 -2.6 0 -0.6Z"/><path transform="rotate(60)" d="M0 -0.6C-0.5 -2.6 -1.9 -4.6 -1.9 -6.6A1.9 1.9 0 0 1 1.9 -6.6C1.9 -4.6 0.5 -2.6 0 -0.6Z"/><path transform="rotate(120)" d="M0 -0.6C-0.5 -2.6 -1.9 -4.6 -1.9 -6.6A1.9 1.9 0 0 1 1.9 -6.6C1.9 -4.6 0.5 -2.6 0 -0.6Z"/><path transform="rotate(180)" d="M0 -0.6C-0.5 -2.6 -1.9 -4.6 -1.9 -6.6A1.9 1.9 0 0 1 1.9 -6.6C1.9 -4.6 0.5 -2.6 0 -0.6Z"/><path transform="rotate(240)" d="M0 -0.6C-0.5 -2.6 -1.9 -4.6 -1.9 -6.6A1.9 1.9 0 0 1 1.9 -6.6C1.9 -4.6 0.5 -2.6 0 -0.6Z"/><path transform="rotate(300)" d="M0 -0.6C-0.5 -2.6 -1.9 -4.6 -1.9 -6.6A1.9 1.9 0 0 1 1.9 -6.6C1.9 -4.6 0.5 -2.6 0 -0.6Z"/></g>
<g transform="translate(1324.435 1320.15) scale(1.029)" fill="#000"><circle r="0.9"/><path transform="rotate(0)" d="M0 -0.6C-0.5 -2.6 -1.9 -4.6 -1.9 -6.6A1.9 1.9 0 0 1 1.9 -6.6C1.9 -4.6 0.5 -2.6 0 -0.6Z"/><path transform="rotate(60)" d="M0 -0.6C-0.5 -2.6 -1.9 -4.6 -1.9 -6.6A1.9 1.9 0 0 1 1.9 -6.6C1.9 -4.6 0.5 -2.6 0 -0.6Z"/><path transform="rotate(120)" d="M0 -0.6C-0.5 -2.6 -1.9 -4.6 -1.9 -6.6A1.9 1.9 0 0 1 1.9 -6.6C1.9 -4.6 0.5 -2.6 0 -0.6Z"/><path transform="rotate(180)" d="M0 -0.6C-0.5 -2.6 -1.9 -4.6 -1.9 -6.6A1.9 1.9 0 0 1 1.9 -6.6C1.9 -4.6 0.5 -2.6 0 -0.6Z"/><path transform="rotate(240)" d="M0 -0.6C-0.5 -2.6 -1.9 -4.6 -1.9 -6.6A1.9 1.9 0 0 1 1.9 -6.6C1.9 -4.6 0.5 -2.6 0 -0.6Z"/><path transform="rotate(300)" d="M0 -0.6C-0.5 -2.6 -1.9 -4.6 -1.9 -6.6A1.9 1.9 0 0 1 1.9 -6.6C1.9 -4.6 0.5 -2.6 0 -0.6Z"/></g>
<g transform="translate(1345.3 1320.15) scale(1.029)" fill="#000"><circle r="0.9"/><path transform="rotate(0)" d="M0 -0.6C-0.5 -2.6 -1.9 -4.6 -1.9 -6.6A1.9 1.9 0 0 1 1.9 -6.6C1.9 -4.6 0.5 -2.6 0 -0.6Z"/><path transform="rotate(60)" d="M0 -0.6C-0.5 -2.6 -1.9 -4.6 -1.9 -6.6A1.9 1.9 0 0 1 1.9 -6.6C1.9 -4.6 0.5 -2.6 0 -0.6Z"/><path transform="rotate(120)" d="M0 -0.6C-0.5 -2.6 -1.9 -4.6 -1.9 -6.6A1.9 1.9 0 0 1 1.9 -6.6C1.9 -4.6 0.5 -2.6 0 -0.6Z"/><path transform="rotate(180)" d="M0 -0.6C-0.5 -2.6 -1.9 -4.6 -1.9 -6.6A1.9 1.9 0 0 1 1.9 -6.6C1.9 -4.6 0.5 -2.6 0 -0.6Z"/><path transform="rotate(240)" d="M0 -0.6C-0.5 -2.6 -1.9 -4.6 -1.9 -6.6A1.9 1.9 0 0 1 1.9 -6.6C1.9 -4.6 0.5 -2.6 0 -0.6Z"/><path transform="rotate(300)" d="M0 -0.6C-0.5 -2.6 -1.9 -4.6 -1.9 -6.6A1.9 1.9 0 0 1 1.9 -6.6C1.9 -4.6 0.5 -2.6 0 -0.6Z"/></g>
<g transform="translate(1366.165 1320.15) scale(1.029)" fill="#000"><circle r="0.9"/><path transform="rotate(0)" d="M0 -0.6C-0.5 -2.6 -1.9 -4.6 -1.9 -6.6A1.9 1.9 0 0 1 1.9 -6.6C1.9 -4.6 0.5 -2.6 0 -0.6Z"/><path transform="rotate(60)" d="M0 -0.6C-0.5 -2.6 -1.9 -4.6 -1.9 -6.6A1.9 1.9 0 0 1 1.9 -6.6C1.9 -4.6 0.5 -2.6 0 -0.6Z"/><path transform="rotate(120)" d="M0 -0.6C-0.5 -2.6 -1.9 -4.6 -1.9 -6.6A1.9 1.9 0 0 1 1.9 -6.6C1.9 -4.6 0.5 -2.6 0 -0.6Z"/><path transform="rotate(180)" d="M0 -0.6C-0.5 -2.6 -1.9 -4.6 -1.9 -6.6A1.9 1.9 0 0 1 1.9 -6.6C1.9 -4.6 0.5 -2.6 0 -0.6Z"/><path transform="rotate(240)" d="M0 -0.6C-0.5 -2.6 -1.9 -4.6 -1.9 -6.6A1.9 1.9 0 0 1 1.9 -6.6C1.9 -4.6 0.5 -2.6 0 -0.6Z"/><path transform="rotate(300)" d="M0 -0.6C-0.5 -2.6 -1.9 -4.6 -1.9 -6.6A1.9 1.9 0 0 1 1.9 -6.6C1.9 -4.6 0.5 -2.6 0 -0.6Z"/></g>
<text transform="matrix(0.382 0 0 0.406 1064.991 1784.794)" font-family="Liberation Serif" font-weight="bold" font-style="normal" font-size="100" fill="#000" xml:space="preserve">Ctr</text>
<text transform="matrix(0.375 0 0 0.4 1184.624 1782.3)" font-family="Liberation Serif" font-weight="bold" font-style="normal" font-size="100" fill="#000" xml:space="preserve">SYN</text>
<text transform="matrix(0.373 0 0 0.4 1328.382 1784.4)" font-family="Liberation Serif" font-weight="bold" font-style="normal" font-size="100" fill="#000" xml:space="preserve">ISO</text>
<text transform="matrix(0 -0.375 0.375 0 40.8 930.175)" font-family="Liberation Serif" font-weight="bold" font-style="normal" font-size="100" xml:space="preserve">Amplitude</text>
<text transform="matrix(0 -0.376 0.376 0 85.618 969.427)" font-family="Liberation Serif" font-weight="bold" font-style="normal" font-size="100" xml:space="preserve">change rate (%)</text>
<text transform="matrix(0 -0.375 0.375 0 875.9 928.051)" font-family="Liberation Serif" font-weight="bold" font-style="normal" font-size="100" xml:space="preserve">Raise time</text>
<text transform="matrix(0 -0.375 0.375 0 921.108 973.526)" font-family="Liberation Serif" font-weight="bold" font-style="normal" font-size="100" xml:space="preserve">change rate (%)</text>
<text transform="matrix(0 -0.378 0.378 0 65.1 1603.057)" font-family="Liberation Serif" font-weight="bold" font-style="normal" font-size="100" xml:space="preserve">Decay time</text>
<text transform="matrix(0 -0.378 0.378 0 110.69 1644.834)" font-family="Liberation Serif" font-weight="bold" font-style="normal" font-size="100" xml:space="preserve">change rate (%)</text>
<text transform="matrix(0 -0.377 0.377 0 877.6 1560.454)" font-family="Liberation Serif" font-weight="bold" font-style="normal" font-size="100" xml:space="preserve">FWHM</text>
<text transform="matrix(0 -0.378 0.378 0 922.88 1628.534)" font-family="Liberation Serif" font-weight="bold" font-style="normal" font-size="100" xml:space="preserve">change rate (%)</text>
</svg></body></html>
